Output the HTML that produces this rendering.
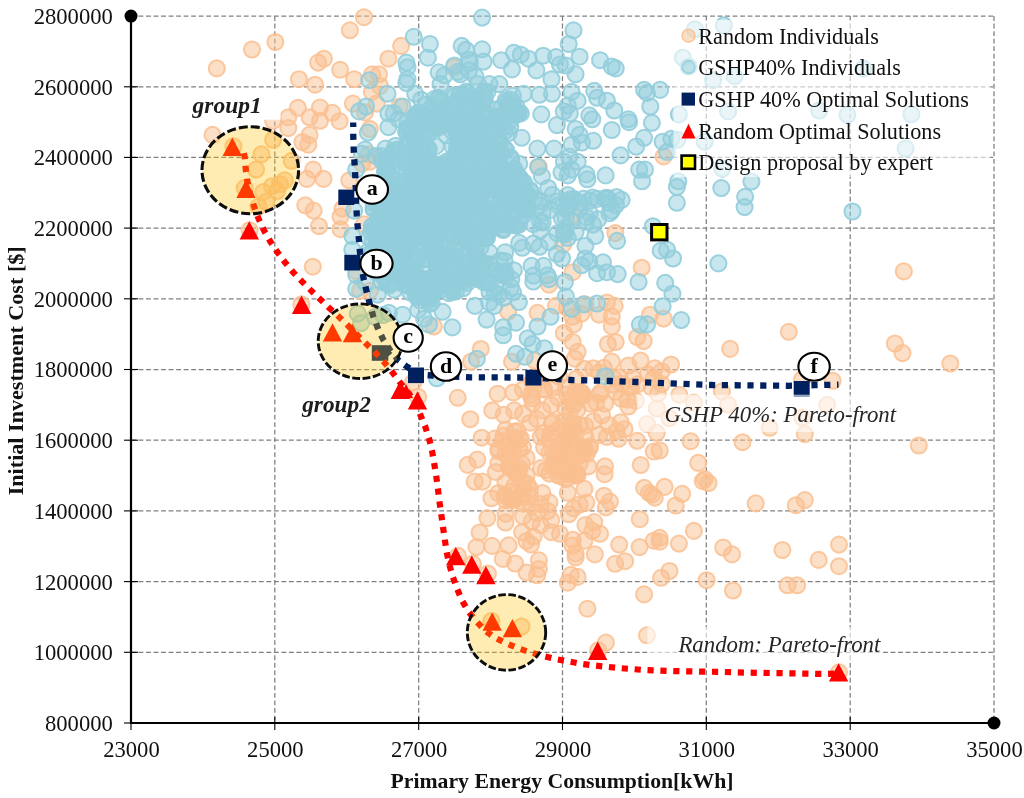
<!DOCTYPE html>
<html lang="en"><head><meta charset="utf-8"><title>Pareto front scatter chart</title>
<style>
html,body{margin:0;padding:0;background:#fff;}
body{width:1024px;height:798px;overflow:hidden;}
svg{display:block;}
text{font-family:"Liberation Serif","Times New Roman",serif;fill:#111;}
.tk{font-size:24px;}
.ttl{font-size:22px;font-weight:bold;}
.lg{font-size:22.7px;fill:#000;}
.it{font-size:22.5px;font-style:italic;fill:#262626;}
.grp{font-size:24.1px;font-style:italic;font-weight:bold;fill:#1c1c1c;}
.lab{font-size:22px;font-weight:bold;fill:#000;}
.o{fill:#fac090;fill-opacity:0.5;stroke:#fac090;stroke-opacity:0.85;stroke-width:2;}
.b{fill:#92cddc;fill-opacity:0.5;stroke:#92cddc;stroke-opacity:0.9;stroke-width:2;}
</style></head><body>
<svg width="1024" height="798" viewBox="0 0 1024 798">
<rect width="1024" height="798" fill="#fff"/>
<g stroke="#808080" stroke-width="1.25" stroke-dasharray="4.85 2.67" fill="none">
<line x1="274.8" y1="16.1" x2="274.8" y2="723.0"/>
<line x1="418.7" y1="16.1" x2="418.7" y2="723.0"/>
<line x1="562.5" y1="16.1" x2="562.5" y2="723.0"/>
<line x1="706.3" y1="16.1" x2="706.3" y2="723.0"/>
<line x1="850.2" y1="16.1" x2="850.2" y2="723.0"/>
<line x1="994.0" y1="16.1" x2="994.0" y2="723.0"/>
<line x1="131.0" y1="652.3" x2="994.0" y2="652.3"/>
<line x1="131.0" y1="581.6" x2="994.0" y2="581.6"/>
<line x1="131.0" y1="510.9" x2="994.0" y2="510.9"/>
<line x1="131.0" y1="440.2" x2="994.0" y2="440.2"/>
<line x1="131.0" y1="369.5" x2="994.0" y2="369.5"/>
<line x1="131.0" y1="298.8" x2="994.0" y2="298.8"/>
<line x1="131.0" y1="228.1" x2="994.0" y2="228.1"/>
<line x1="131.0" y1="157.4" x2="994.0" y2="157.4"/>
<line x1="131.0" y1="86.8" x2="994.0" y2="86.8"/>
<line x1="131.0" y1="16.0" x2="994.0" y2="16.0"/>
</g>
<g class="o">
<circle cx="216.8" cy="68.4" r="8.05"/>
<circle cx="252" cy="49.5" r="8.05"/>
<circle cx="275.4" cy="42" r="8.05"/>
<circle cx="349.9" cy="30.3" r="8.05"/>
<circle cx="364" cy="17.2" r="8.05"/>
<circle cx="318.1" cy="62.6" r="8.05"/>
<circle cx="323.9" cy="58.7" r="8.05"/>
<circle cx="340.1" cy="69.8" r="8.05"/>
<circle cx="298.9" cy="79.2" r="8.05"/>
<circle cx="315.1" cy="84.7" r="8.05"/>
<circle cx="354.2" cy="79.2" r="8.05"/>
<circle cx="372.2" cy="74.3" r="8.05"/>
<circle cx="388.4" cy="58.7" r="8.05"/>
<circle cx="371.8" cy="91.9" r="8.05"/>
<circle cx="352.9" cy="103.6" r="8.05"/>
<circle cx="376.7" cy="103.6" r="8.05"/>
<circle cx="297.9" cy="107.9" r="8.05"/>
<circle cx="320" cy="107.5" r="8.05"/>
<circle cx="332.3" cy="112.8" r="8.05"/>
<circle cx="288.3" cy="117.3" r="8.05"/>
<circle cx="309.6" cy="117.3" r="8.05"/>
<circle cx="320" cy="120.8" r="8.05"/>
<circle cx="339.6" cy="121.2" r="8.05"/>
<circle cx="288.3" cy="128.1" r="8.05"/>
<circle cx="309.6" cy="134.9" r="8.05"/>
<circle cx="302.4" cy="142.1" r="8.05"/>
<circle cx="308.3" cy="144.7" r="8.05"/>
<circle cx="212.5" cy="134.9" r="8.05"/>
<circle cx="233.4" cy="146.2" r="8.05"/>
<circle cx="273.1" cy="139.8" r="8.05"/>
<circle cx="261.4" cy="154.4" r="8.05"/>
<circle cx="369.9" cy="129" r="8.05"/>
<circle cx="365" cy="112.4" r="8.05"/>
<circle cx="401.1" cy="45.9" r="8.05"/>
<circle cx="453.9" cy="67.4" r="8.05"/>
<circle cx="379" cy="74.3" r="8.05"/>
<circle cx="380" cy="86" r="8.05"/>
<circle cx="399.6" cy="106.5" r="8.05"/>
<circle cx="663.6" cy="156.4" r="8.05"/>
<circle cx="903.8" cy="271.4" r="8.05"/>
<circle cx="788.8" cy="331.8" r="8.05"/>
<circle cx="894.9" cy="343.5" r="8.05"/>
<circle cx="902.5" cy="353.1" r="8.05"/>
<circle cx="950.3" cy="363.5" r="8.05"/>
<circle cx="832.7" cy="380.8" r="8.05"/>
<circle cx="802.2" cy="379.5" r="8.05"/>
<circle cx="827.1" cy="404.9" r="8.05"/>
<circle cx="802.2" cy="417.6" r="8.05"/>
<circle cx="769.7" cy="427.8" r="8.05"/>
<circle cx="804.8" cy="434.1" r="8.05"/>
<circle cx="742.5" cy="442.2" r="8.05"/>
<circle cx="918.8" cy="445.5" r="8.05"/>
<circle cx="755.7" cy="503.4" r="8.05"/>
<circle cx="795.9" cy="505.2" r="8.05"/>
<circle cx="804.8" cy="500.1" r="8.05"/>
<circle cx="782.4" cy="550" r="8.05"/>
<circle cx="839" cy="544.6" r="8.05"/>
<circle cx="818.7" cy="559.9" r="8.05"/>
<circle cx="839" cy="566.2" r="8.05"/>
<circle cx="787.5" cy="585.3" r="8.05"/>
<circle cx="797.1" cy="585.3" r="8.05"/>
<circle cx="839" cy="672.4" r="8.05"/>
<circle cx="615.3" cy="233.1" r="8.05"/>
<circle cx="641.7" cy="267.7" r="8.05"/>
<circle cx="572.7" cy="272.2" r="8.05"/>
<circle cx="606.9" cy="302.5" r="8.05"/>
<circle cx="585.4" cy="304.4" r="8.05"/>
<circle cx="573.7" cy="214.5" r="8.05"/>
<circle cx="730.1" cy="348.9" r="8.05"/>
<circle cx="649.9" cy="314.7" r="8.05"/>
<circle cx="663.6" cy="318.6" r="8.05"/>
<circle cx="637.2" cy="337.1" r="8.05"/>
<circle cx="643.7" cy="341.1" r="8.05"/>
<circle cx="611.8" cy="316.6" r="8.05"/>
<circle cx="611.8" cy="326.4" r="8.05"/>
<circle cx="614.7" cy="305.9" r="8.05"/>
<circle cx="607.9" cy="344" r="8.05"/>
<circle cx="615.7" cy="342" r="8.05"/>
<circle cx="611.8" cy="361.6" r="8.05"/>
<circle cx="628.4" cy="365.5" r="8.05"/>
<circle cx="640.5" cy="360.6" r="8.05"/>
<circle cx="671" cy="364.5" r="8.05"/>
<circle cx="654.8" cy="368.4" r="8.05"/>
<circle cx="661.7" cy="371.4" r="8.05"/>
<circle cx="648" cy="374.3" r="8.05"/>
<circle cx="653.8" cy="378.2" r="8.05"/>
<circle cx="619.6" cy="377.2" r="8.05"/>
<circle cx="593.2" cy="368.4" r="8.05"/>
<circle cx="599.1" cy="372.3" r="8.05"/>
<circle cx="574.7" cy="358.7" r="8.05"/>
<circle cx="577.6" cy="351.8" r="8.05"/>
<circle cx="572.7" cy="342" r="8.05"/>
<circle cx="573.7" cy="324.4" r="8.05"/>
<circle cx="563.9" cy="333.2" r="8.05"/>
<circle cx="599.1" cy="314.7" r="8.05"/>
<circle cx="581.5" cy="313.7" r="8.05"/>
<circle cx="566.8" cy="307.8" r="8.05"/>
<circle cx="633.3" cy="378.2" r="8.05"/>
<circle cx="661.7" cy="384.1" r="8.05"/>
<circle cx="651.9" cy="388" r="8.05"/>
<circle cx="657.8" cy="393.8" r="8.05"/>
<circle cx="679.3" cy="394.8" r="8.05"/>
<circle cx="693.9" cy="402.6" r="8.05"/>
<circle cx="656.8" cy="408.5" r="8.05"/>
<circle cx="669.5" cy="418.3" r="8.05"/>
<circle cx="647" cy="424.1" r="8.05"/>
<circle cx="656.8" cy="432.9" r="8.05"/>
<circle cx="721.9" cy="391.5" r="8.05"/>
<circle cx="728.1" cy="404.6" r="8.05"/>
<circle cx="690.6" cy="441.2" r="8.05"/>
<circle cx="637.2" cy="440.8" r="8.05"/>
<circle cx="618.7" cy="438.8" r="8.05"/>
<circle cx="628.4" cy="406.5" r="8.05"/>
<circle cx="627.4" cy="399.7" r="8.05"/>
<circle cx="615.7" cy="391.9" r="8.05"/>
<circle cx="601.1" cy="391.9" r="8.05"/>
<circle cx="605" cy="403.6" r="8.05"/>
<circle cx="590.3" cy="403.6" r="8.05"/>
<circle cx="602" cy="415.3" r="8.05"/>
<circle cx="593.2" cy="421.2" r="8.05"/>
<circle cx="608.9" cy="425.1" r="8.05"/>
<circle cx="620.6" cy="422.2" r="8.05"/>
<circle cx="624.5" cy="429" r="8.05"/>
<circle cx="616.7" cy="431" r="8.05"/>
<circle cx="580.5" cy="391.9" r="8.05"/>
<circle cx="571.7" cy="397.8" r="8.05"/>
<circle cx="565.9" cy="388" r="8.05"/>
<circle cx="577.6" cy="409.5" r="8.05"/>
<circle cx="569.8" cy="413.4" r="8.05"/>
<circle cx="563.9" cy="421.2" r="8.05"/>
<circle cx="579.6" cy="425.1" r="8.05"/>
<circle cx="571.7" cy="432.9" r="8.05"/>
<circle cx="585.4" cy="436.9" r="8.05"/>
<circle cx="565.9" cy="440.8" r="8.05"/>
<circle cx="577.6" cy="444.7" r="8.05"/>
<circle cx="589.3" cy="448.6" r="8.05"/>
<circle cx="599.1" cy="434.9" r="8.05"/>
<circle cx="606.9" cy="436.9" r="8.05"/>
<circle cx="571.7" cy="454.4" r="8.05"/>
<circle cx="659.7" cy="450.5" r="8.05"/>
<circle cx="653.8" cy="451.5" r="8.05"/>
<circle cx="640.7" cy="465" r="8.05"/>
<circle cx="698.2" cy="462.9" r="8.05"/>
<circle cx="605" cy="466.4" r="8.05"/>
<circle cx="604.6" cy="474.2" r="8.05"/>
<circle cx="588.3" cy="466.4" r="8.05"/>
<circle cx="702.7" cy="481.1" r="8.05"/>
<circle cx="708.6" cy="483" r="8.05"/>
<circle cx="704.7" cy="479.1" r="8.05"/>
<circle cx="644.1" cy="487.9" r="8.05"/>
<circle cx="649" cy="492.8" r="8.05"/>
<circle cx="654.8" cy="497.7" r="8.05"/>
<circle cx="651.9" cy="494.7" r="8.05"/>
<circle cx="664.6" cy="486.9" r="8.05"/>
<circle cx="682.2" cy="493.8" r="8.05"/>
<circle cx="675.7" cy="505.5" r="8.05"/>
<circle cx="584.4" cy="488.9" r="8.05"/>
<circle cx="604" cy="495.7" r="8.05"/>
<circle cx="609.9" cy="501.6" r="8.05"/>
<circle cx="605.9" cy="507.4" r="8.05"/>
<circle cx="567.8" cy="492.8" r="8.05"/>
<circle cx="586.4" cy="502.6" r="8.05"/>
<circle cx="573.7" cy="508.4" r="8.05"/>
<circle cx="568.8" cy="514.3" r="8.05"/>
<circle cx="579.6" cy="504.5" r="8.05"/>
<circle cx="639.8" cy="519.2" r="8.05"/>
<circle cx="693.9" cy="530.9" r="8.05"/>
<circle cx="594.2" cy="522.1" r="8.05"/>
<circle cx="585.4" cy="525" r="8.05"/>
<circle cx="592.3" cy="530.9" r="8.05"/>
<circle cx="600.1" cy="533.8" r="8.05"/>
<circle cx="584.4" cy="540.7" r="8.05"/>
<circle cx="572.7" cy="539.7" r="8.05"/>
<circle cx="572.7" cy="545.6" r="8.05"/>
<circle cx="560" cy="533.8" r="8.05"/>
<circle cx="619.2" cy="544.6" r="8.05"/>
<circle cx="639.6" cy="547.1" r="8.05"/>
<circle cx="653.8" cy="540.7" r="8.05"/>
<circle cx="659.7" cy="537.8" r="8.05"/>
<circle cx="659.7" cy="541.7" r="8.05"/>
<circle cx="678.9" cy="543.6" r="8.05"/>
<circle cx="723.2" cy="547.5" r="8.05"/>
<circle cx="732" cy="554.4" r="8.05"/>
<circle cx="594.8" cy="554.4" r="8.05"/>
<circle cx="575.6" cy="553.4" r="8.05"/>
<circle cx="575.6" cy="557.3" r="8.05"/>
<circle cx="615.1" cy="563.8" r="8.05"/>
<circle cx="625.1" cy="561.2" r="8.05"/>
<circle cx="661.1" cy="577.8" r="8.05"/>
<circle cx="669.5" cy="571" r="8.05"/>
<circle cx="706.6" cy="580.2" r="8.05"/>
<circle cx="570.8" cy="574.9" r="8.05"/>
<circle cx="577.6" cy="576.9" r="8.05"/>
<circle cx="567.8" cy="582.7" r="8.05"/>
<circle cx="733" cy="590.5" r="8.05"/>
<circle cx="644.1" cy="594.4" r="8.05"/>
<circle cx="571.7" cy="445.9" r="8.05"/>
<circle cx="563.9" cy="455.6" r="8.05"/>
<circle cx="571.7" cy="459.6" r="8.05"/>
<circle cx="579.6" cy="463.5" r="8.05"/>
<circle cx="563.9" cy="467.4" r="8.05"/>
<circle cx="571.7" cy="471.3" r="8.05"/>
<circle cx="577.6" cy="475.2" r="8.05"/>
<circle cx="565.9" cy="479.1" r="8.05"/>
<circle cx="587.4" cy="608.7" r="8.05"/>
<circle cx="647" cy="635.3" r="8.05"/>
<circle cx="605.9" cy="642.6" r="8.05"/>
<circle cx="598.1" cy="650.4" r="8.05"/>
<circle cx="457.7" cy="397.8" r="8.05"/>
<circle cx="470.3" cy="419.2" r="8.05"/>
<circle cx="497.6" cy="393.7" r="8.05"/>
<circle cx="513.4" cy="392.5" r="8.05"/>
<circle cx="481.7" cy="437.7" r="8.05"/>
<circle cx="494.9" cy="438.6" r="8.05"/>
<circle cx="467.7" cy="464.9" r="8.05"/>
<circle cx="477.3" cy="459.6" r="8.05"/>
<circle cx="474.7" cy="481.6" r="8.05"/>
<circle cx="482.6" cy="481.6" r="8.05"/>
<circle cx="495.8" cy="472" r="8.05"/>
<circle cx="492.3" cy="410.4" r="8.05"/>
<circle cx="503.7" cy="414.8" r="8.05"/>
<circle cx="491.4" cy="498.3" r="8.05"/>
<circle cx="531.8" cy="398.1" r="8.05"/>
<circle cx="514.3" cy="410.4" r="8.05"/>
<circle cx="523" cy="413.9" r="8.05"/>
<circle cx="505.5" cy="429.8" r="8.05"/>
<circle cx="514.3" cy="431.5" r="8.05"/>
<circle cx="498.4" cy="449.1" r="8.05"/>
<circle cx="505.5" cy="454.4" r="8.05"/>
<circle cx="512.5" cy="450.9" r="8.05"/>
<circle cx="523" cy="447.3" r="8.05"/>
<circle cx="526.6" cy="457.9" r="8.05"/>
<circle cx="498.4" cy="463.2" r="8.05"/>
<circle cx="509" cy="466.7" r="8.05"/>
<circle cx="519.5" cy="468.4" r="8.05"/>
<circle cx="526.6" cy="475.5" r="8.05"/>
<circle cx="505.5" cy="482.5" r="8.05"/>
<circle cx="514.3" cy="486" r="8.05"/>
<circle cx="523" cy="489.5" r="8.05"/>
<circle cx="498.4" cy="493" r="8.05"/>
<circle cx="505.5" cy="500.1" r="8.05"/>
<circle cx="514.3" cy="500.1" r="8.05"/>
<circle cx="523" cy="503.6" r="8.05"/>
<circle cx="530.1" cy="496.6" r="8.05"/>
<circle cx="542.4" cy="493" r="8.05"/>
<circle cx="549.4" cy="473.7" r="8.05"/>
<circle cx="545.9" cy="470.2" r="8.05"/>
<circle cx="540.6" cy="436.8" r="8.05"/>
<circle cx="549.4" cy="440.3" r="8.05"/>
<circle cx="558.2" cy="436.8" r="8.05"/>
<circle cx="567" cy="435" r="8.05"/>
<circle cx="544.1" cy="447.3" r="8.05"/>
<circle cx="552.9" cy="452.6" r="8.05"/>
<circle cx="561.7" cy="449.1" r="8.05"/>
<circle cx="554.7" cy="463.2" r="8.05"/>
<circle cx="558.2" cy="475.5" r="8.05"/>
<circle cx="542.4" cy="410.4" r="8.05"/>
<circle cx="551.2" cy="405.2" r="8.05"/>
<circle cx="558.2" cy="398.1" r="8.05"/>
<circle cx="567" cy="394.6" r="8.05"/>
<circle cx="537.1" cy="419.2" r="8.05"/>
<circle cx="530.1" cy="422.7" r="8.05"/>
<circle cx="544.1" cy="389.3" r="8.05"/>
<circle cx="552.9" cy="387.6" r="8.05"/>
<circle cx="533.6" cy="387.6" r="8.05"/>
<circle cx="523" cy="389.3" r="8.05"/>
<circle cx="572.3" cy="405.2" r="8.05"/>
<circle cx="565.2" cy="408.7" r="8.05"/>
<circle cx="487.4" cy="518.1" r="8.05"/>
<circle cx="479.6" cy="532.5" r="8.05"/>
<circle cx="476.5" cy="547.1" r="8.05"/>
<circle cx="491.9" cy="545.9" r="8.05"/>
<circle cx="508.6" cy="545.4" r="8.05"/>
<circle cx="502.8" cy="558.9" r="8.05"/>
<circle cx="515.1" cy="563.5" r="8.05"/>
<circle cx="526.6" cy="572.6" r="8.05"/>
<circle cx="537.1" cy="575.3" r="8.05"/>
<circle cx="538.9" cy="560.3" r="8.05"/>
<circle cx="538.9" cy="569.1" r="8.05"/>
<circle cx="505.5" cy="513.7" r="8.05"/>
<circle cx="505.5" cy="522.5" r="8.05"/>
<circle cx="522.2" cy="532.2" r="8.05"/>
<circle cx="526.6" cy="541" r="8.05"/>
<circle cx="531" cy="544.5" r="8.05"/>
<circle cx="533.6" cy="536.6" r="8.05"/>
<circle cx="523" cy="516.4" r="8.05"/>
<circle cx="531.8" cy="521.6" r="8.05"/>
<circle cx="540.6" cy="525.2" r="8.05"/>
<circle cx="551.2" cy="519.9" r="8.05"/>
<circle cx="551.2" cy="532.2" r="8.05"/>
<circle cx="531.8" cy="505.8" r="8.05"/>
<circle cx="540.6" cy="504.1" r="8.05"/>
<circle cx="549.4" cy="502.3" r="8.05"/>
<circle cx="537.1" cy="512.9" r="8.05"/>
<circle cx="547.7" cy="511.1" r="8.05"/>
<circle cx="458" cy="555.9" r="8.05"/>
<circle cx="472.9" cy="563.8" r="8.05"/>
<circle cx="487.9" cy="573.5" r="8.05"/>
<circle cx="491.4" cy="621" r="8.05"/>
<circle cx="256.1" cy="169.6" r="8.05"/>
<circle cx="291.7" cy="160.8" r="8.05"/>
<circle cx="284.8" cy="180.3" r="8.05"/>
<circle cx="279.9" cy="184.2" r="8.05"/>
<circle cx="272.1" cy="186.2" r="8.05"/>
<circle cx="277" cy="191.1" r="8.05"/>
<circle cx="263.3" cy="192" r="8.05"/>
<circle cx="266.2" cy="201.8" r="8.05"/>
<circle cx="258.4" cy="206.7" r="8.05"/>
<circle cx="244.7" cy="188.1" r="8.05"/>
<circle cx="313.2" cy="169.6" r="8.05"/>
<circle cx="306.9" cy="178.9" r="8.05"/>
<circle cx="323.5" cy="178.9" r="8.05"/>
<circle cx="305.3" cy="205.3" r="8.05"/>
<circle cx="313.6" cy="210.6" r="8.05"/>
<circle cx="319" cy="226.2" r="8.05"/>
<circle cx="340.5" cy="229.2" r="8.05"/>
<circle cx="342.5" cy="208.7" r="8.05"/>
<circle cx="340.5" cy="216.5" r="8.05"/>
<circle cx="349.3" cy="180.3" r="8.05"/>
<circle cx="312.8" cy="266.7" r="8.05"/>
<circle cx="249.6" cy="230.2" r="8.05"/>
<circle cx="301.4" cy="304.4" r="8.05"/>
<circle cx="362" cy="163.7" r="8.05"/>
<circle cx="369.9" cy="161.7" r="8.05"/>
<circle cx="360.1" cy="290.8" r="8.05"/>
<circle cx="369.9" cy="290.8" r="8.05"/>
<circle cx="364" cy="224.3" r="8.05"/>
<circle cx="356.2" cy="271.2" r="8.05"/>
<circle cx="538.8" cy="166.8" r="8.05"/>
<circle cx="563.1" cy="244.4" r="8.05"/>
<circle cx="480.8" cy="349" r="8.05"/>
<circle cx="471" cy="361.7" r="8.05"/>
<circle cx="508.1" cy="311.8" r="8.05"/>
<circle cx="512" cy="361.7" r="8.05"/>
<circle cx="537.5" cy="312.8" r="8.05"/>
<circle cx="413.3" cy="382.2" r="8.05"/>
<circle cx="418.2" cy="396.9" r="8.05"/>
<circle cx="433.8" cy="326.5" r="8.05"/>
<circle cx="421.1" cy="291.3" r="8.05"/>
<circle cx="549" cy="284.7" r="8.05"/>
<circle cx="556" cy="305.8" r="8.05"/>
<circle cx="572.5" cy="316.8" r="8.05"/>
<circle cx="534.9" cy="360.7" r="8.05"/>
<circle cx="368.8" cy="154.4" r="8.05"/>
<circle cx="273.1" cy="120.8" r="8.05"/>
<circle cx="521.5" cy="626.6" r="8.05"/>
<circle cx="575.4" cy="391.7" r="8.05"/>
<circle cx="631.1" cy="387.4" r="8.05"/>
<circle cx="581.9" cy="393" r="8.05"/>
<circle cx="543.8" cy="389.5" r="8.05"/>
<circle cx="596.3" cy="402.5" r="8.05"/>
<circle cx="533.1" cy="380" r="8.05"/>
<circle cx="532.7" cy="403.2" r="8.05"/>
<circle cx="603.8" cy="367.9" r="8.05"/>
<circle cx="599.2" cy="394.3" r="8.05"/>
<circle cx="584.3" cy="368.7" r="8.05"/>
<circle cx="544.4" cy="377.1" r="8.05"/>
<circle cx="574" cy="404.8" r="8.05"/>
<circle cx="583.3" cy="395.5" r="8.05"/>
<circle cx="581" cy="396.5" r="8.05"/>
<circle cx="576" cy="378.8" r="8.05"/>
<circle cx="621.1" cy="398.6" r="8.05"/>
<circle cx="559.2" cy="376.6" r="8.05"/>
<circle cx="612.4" cy="384.4" r="8.05"/>
<circle cx="621.9" cy="383.8" r="8.05"/>
<circle cx="629.4" cy="387.6" r="8.05"/>
<circle cx="637.7" cy="384.3" r="8.05"/>
<circle cx="530.6" cy="395" r="8.05"/>
<circle cx="613.9" cy="378.4" r="8.05"/>
<circle cx="532.3" cy="381.3" r="8.05"/>
<circle cx="635.8" cy="400.9" r="8.05"/>
<circle cx="535.9" cy="377.3" r="8.05"/>
<circle cx="527.3" cy="483.9" r="8.05"/>
<circle cx="519.5" cy="449.7" r="8.05"/>
<circle cx="516.5" cy="473.5" r="8.05"/>
<circle cx="515.3" cy="437.7" r="8.05"/>
<circle cx="508.2" cy="456.5" r="8.05"/>
<circle cx="508.9" cy="446.5" r="8.05"/>
<circle cx="509.9" cy="450.5" r="8.05"/>
<circle cx="505.9" cy="496.3" r="8.05"/>
<circle cx="512.7" cy="469.8" r="8.05"/>
<circle cx="503.3" cy="435.9" r="8.05"/>
<circle cx="519.7" cy="439.5" r="8.05"/>
<circle cx="530" cy="488.7" r="8.05"/>
<circle cx="522.5" cy="497.5" r="8.05"/>
<circle cx="523.9" cy="488.2" r="8.05"/>
<circle cx="523.4" cy="482.2" r="8.05"/>
<circle cx="509.7" cy="467.4" r="8.05"/>
<circle cx="511" cy="499" r="8.05"/>
<circle cx="511.5" cy="491.5" r="8.05"/>
<circle cx="504.6" cy="495.6" r="8.05"/>
<circle cx="514.7" cy="498.6" r="8.05"/>
<circle cx="522" cy="463.9" r="8.05"/>
<circle cx="498.4" cy="451" r="8.05"/>
<circle cx="520.9" cy="438.3" r="8.05"/>
<circle cx="511.7" cy="466.4" r="8.05"/>
<circle cx="518.6" cy="472" r="8.05"/>
<circle cx="502.7" cy="441.6" r="8.05"/>
<circle cx="512.1" cy="499.7" r="8.05"/>
<circle cx="517.3" cy="431" r="8.05"/>
<circle cx="549.3" cy="452.7" r="8.05"/>
<circle cx="556.7" cy="456.2" r="8.05"/>
<circle cx="571" cy="423.9" r="8.05"/>
<circle cx="550.5" cy="434.1" r="8.05"/>
<circle cx="582.8" cy="448.6" r="8.05"/>
<circle cx="571.8" cy="429" r="8.05"/>
<circle cx="571.6" cy="472.1" r="8.05"/>
<circle cx="565.3" cy="464.5" r="8.05"/>
<circle cx="573.6" cy="423.8" r="8.05"/>
<circle cx="578.5" cy="455.5" r="8.05"/>
<circle cx="552.9" cy="421.9" r="8.05"/>
<circle cx="584.5" cy="448.4" r="8.05"/>
<circle cx="576.3" cy="472.7" r="8.05"/>
<circle cx="576" cy="475.3" r="8.05"/>
<circle cx="558.1" cy="468.1" r="8.05"/>
<circle cx="560.9" cy="476.1" r="8.05"/>
<circle cx="585.2" cy="425.8" r="8.05"/>
<circle cx="543.6" cy="433" r="8.05"/>
<circle cx="590.1" cy="446.2" r="8.05"/>
<circle cx="571.1" cy="438.1" r="8.05"/>
<circle cx="564.4" cy="443.2" r="8.05"/>
<circle cx="555.7" cy="455.1" r="8.05"/>
<circle cx="568.7" cy="474.3" r="8.05"/>
<circle cx="574.2" cy="475.7" r="8.05"/>
<circle cx="573.6" cy="429.8" r="8.05"/>
<circle cx="586.7" cy="454.1" r="8.05"/>
<circle cx="576" cy="432.7" r="8.05"/>
<circle cx="582.6" cy="454.4" r="8.05"/>
<circle cx="552" cy="423.8" r="8.05"/>
<circle cx="541" cy="468" r="8.05"/>
<circle cx="559" cy="429" r="8.05"/>
<circle cx="552.5" cy="466.1" r="8.05"/>
</g>
<g class="b">
<circle cx="369.3" cy="80.2" r="8.05"/>
<circle cx="366" cy="106.5" r="8.05"/>
<circle cx="359.1" cy="111.4" r="8.05"/>
<circle cx="367.9" cy="132.6" r="8.05"/>
<circle cx="365" cy="149.6" r="8.05"/>
<circle cx="387.5" cy="93.8" r="8.05"/>
<circle cx="388.4" cy="113.4" r="8.05"/>
<circle cx="388.4" cy="127.1" r="8.05"/>
<circle cx="385.5" cy="148.6" r="8.05"/>
<circle cx="482.1" cy="17.6" r="8.05"/>
<circle cx="413.8" cy="36.8" r="8.05"/>
<circle cx="429.9" cy="44" r="8.05"/>
<circle cx="427.9" cy="57.7" r="8.05"/>
<circle cx="406.4" cy="62.6" r="8.05"/>
<circle cx="407.4" cy="67.4" r="8.05"/>
<circle cx="407.4" cy="79.2" r="8.05"/>
<circle cx="406.4" cy="83.1" r="8.05"/>
<circle cx="461.7" cy="45.9" r="8.05"/>
<circle cx="466" cy="49.9" r="8.05"/>
<circle cx="482.1" cy="49.3" r="8.05"/>
<circle cx="483.6" cy="61.6" r="8.05"/>
<circle cx="469.9" cy="62.6" r="8.05"/>
<circle cx="454.3" cy="65.5" r="8.05"/>
<circle cx="438.7" cy="72.3" r="8.05"/>
<circle cx="444.5" cy="75.3" r="8.05"/>
<circle cx="440.6" cy="84.1" r="8.05"/>
<circle cx="460.2" cy="74.3" r="8.05"/>
<circle cx="469" cy="70.4" r="8.05"/>
<circle cx="501.2" cy="60.2" r="8.05"/>
<circle cx="513.9" cy="52.8" r="8.05"/>
<circle cx="520.8" cy="54.7" r="8.05"/>
<circle cx="528.6" cy="58.7" r="8.05"/>
<circle cx="512" cy="69.4" r="8.05"/>
<circle cx="536.4" cy="70.4" r="8.05"/>
<circle cx="543.2" cy="55.7" r="8.05"/>
<circle cx="556" cy="57.1" r="8.05"/>
<circle cx="559.9" cy="64.5" r="8.05"/>
<circle cx="551.5" cy="79.2" r="8.05"/>
<circle cx="568.7" cy="44" r="8.05"/>
<circle cx="573.5" cy="30.3" r="8.05"/>
<circle cx="575.5" cy="74.3" r="8.05"/>
<circle cx="499.3" cy="84.1" r="8.05"/>
<circle cx="489.5" cy="84.1" r="8.05"/>
<circle cx="477.8" cy="84.1" r="8.05"/>
<circle cx="523.7" cy="93.8" r="8.05"/>
<circle cx="512.9" cy="95.8" r="8.05"/>
<circle cx="539.3" cy="94.8" r="8.05"/>
<circle cx="552" cy="93.8" r="8.05"/>
<circle cx="571.6" cy="91.9" r="8.05"/>
<circle cx="541.3" cy="114.4" r="8.05"/>
<circle cx="556.9" cy="125.1" r="8.05"/>
<circle cx="563.8" cy="111.4" r="8.05"/>
<circle cx="567.7" cy="105.6" r="8.05"/>
<circle cx="521.7" cy="137.8" r="8.05"/>
<circle cx="537.4" cy="148.6" r="8.05"/>
<circle cx="554" cy="148.6" r="8.05"/>
<circle cx="505.1" cy="131" r="8.05"/>
<circle cx="520.8" cy="113.4" r="8.05"/>
<circle cx="514.9" cy="115.3" r="8.05"/>
<circle cx="415.2" cy="93.8" r="8.05"/>
<circle cx="421.1" cy="99.7" r="8.05"/>
<circle cx="402.5" cy="106.5" r="8.05"/>
<circle cx="393.7" cy="113.4" r="8.05"/>
<circle cx="398.6" cy="119.3" r="8.05"/>
<circle cx="409.3" cy="129" r="8.05"/>
<circle cx="395.6" cy="145.7" r="8.05"/>
<circle cx="579.6" cy="56.7" r="8.05"/>
<circle cx="565.9" cy="65.5" r="8.05"/>
<circle cx="600.1" cy="60.2" r="8.05"/>
<circle cx="611.8" cy="66.5" r="8.05"/>
<circle cx="615.7" cy="68.4" r="8.05"/>
<circle cx="644.1" cy="89.9" r="8.05"/>
<circle cx="647" cy="92.9" r="8.05"/>
<circle cx="660.1" cy="89.9" r="8.05"/>
<circle cx="650.3" cy="106.5" r="8.05"/>
<circle cx="651.9" cy="122.8" r="8.05"/>
<circle cx="628.4" cy="119.3" r="8.05"/>
<circle cx="629" cy="122.2" r="8.05"/>
<circle cx="614.3" cy="110.5" r="8.05"/>
<circle cx="611.8" cy="130" r="8.05"/>
<circle cx="594.2" cy="90.9" r="8.05"/>
<circle cx="597.1" cy="97.8" r="8.05"/>
<circle cx="606.9" cy="100.7" r="8.05"/>
<circle cx="577.6" cy="100.7" r="8.05"/>
<circle cx="589.3" cy="115.3" r="8.05"/>
<circle cx="592.3" cy="119.3" r="8.05"/>
<circle cx="569.8" cy="113.4" r="8.05"/>
<circle cx="575.6" cy="129" r="8.05"/>
<circle cx="579.6" cy="134.9" r="8.05"/>
<circle cx="593.2" cy="140.8" r="8.05"/>
<circle cx="571.7" cy="144.7" r="8.05"/>
<circle cx="644.1" cy="137.8" r="8.05"/>
<circle cx="636.2" cy="146.6" r="8.05"/>
<circle cx="662.6" cy="141.7" r="8.05"/>
<circle cx="671.4" cy="138.8" r="8.05"/>
<circle cx="620.6" cy="155.4" r="8.05"/>
<circle cx="694.9" cy="29.3" r="8.05"/>
<circle cx="723.8" cy="25.4" r="8.05"/>
<circle cx="682.8" cy="57.7" r="8.05"/>
<circle cx="688.6" cy="66.5" r="8.05"/>
<circle cx="713.1" cy="80.2" r="8.05"/>
<circle cx="734.6" cy="76.2" r="8.05"/>
<circle cx="678.9" cy="114.4" r="8.05"/>
<circle cx="728.1" cy="111.4" r="8.05"/>
<circle cx="677.3" cy="139.8" r="8.05"/>
<circle cx="704.7" cy="141.7" r="8.05"/>
<circle cx="863.2" cy="68.6" r="8.05"/>
<circle cx="819.2" cy="110.5" r="8.05"/>
<circle cx="847.4" cy="114.8" r="8.05"/>
<circle cx="911.4" cy="114.3" r="8.05"/>
<circle cx="905.6" cy="148.6" r="8.05"/>
<circle cx="751.4" cy="181.6" r="8.05"/>
<circle cx="745.1" cy="196.8" r="8.05"/>
<circle cx="744.6" cy="207.1" r="8.05"/>
<circle cx="852.5" cy="211.5" r="8.05"/>
<circle cx="605.6" cy="175.4" r="8.05"/>
<circle cx="586.4" cy="174.4" r="8.05"/>
<circle cx="587.4" cy="179.3" r="8.05"/>
<circle cx="639.2" cy="169.6" r="8.05"/>
<circle cx="645" cy="169.6" r="8.05"/>
<circle cx="642.1" cy="181.3" r="8.05"/>
<circle cx="667.1" cy="152" r="8.05"/>
<circle cx="678.3" cy="181.3" r="8.05"/>
<circle cx="676.9" cy="187.1" r="8.05"/>
<circle cx="676.9" cy="202.8" r="8.05"/>
<circle cx="721.3" cy="188.1" r="8.05"/>
<circle cx="722.3" cy="168.6" r="8.05"/>
<circle cx="718.4" cy="263.4" r="8.05"/>
<circle cx="652.9" cy="226.2" r="8.05"/>
<circle cx="660.7" cy="250.7" r="8.05"/>
<circle cx="667.1" cy="249.7" r="8.05"/>
<circle cx="673" cy="258.5" r="8.05"/>
<circle cx="638.6" cy="282" r="8.05"/>
<circle cx="665.2" cy="282.9" r="8.05"/>
<circle cx="672.4" cy="293.7" r="8.05"/>
<circle cx="662.6" cy="306.4" r="8.05"/>
<circle cx="617.1" cy="240.9" r="8.05"/>
<circle cx="595.2" cy="236" r="8.05"/>
<circle cx="585.4" cy="245.8" r="8.05"/>
<circle cx="598.1" cy="219.4" r="8.05"/>
<circle cx="611.8" cy="210.6" r="8.05"/>
<circle cx="608.9" cy="202.8" r="8.05"/>
<circle cx="621.6" cy="199.9" r="8.05"/>
<circle cx="605.9" cy="197.9" r="8.05"/>
<circle cx="597.1" cy="198.9" r="8.05"/>
<circle cx="583.5" cy="198.9" r="8.05"/>
<circle cx="573.7" cy="198.9" r="8.05"/>
<circle cx="589.3" cy="261.4" r="8.05"/>
<circle cx="603" cy="262.4" r="8.05"/>
<circle cx="597.1" cy="273.2" r="8.05"/>
<circle cx="606.9" cy="272.2" r="8.05"/>
<circle cx="617.7" cy="274.1" r="8.05"/>
<circle cx="585.4" cy="258.5" r="8.05"/>
<circle cx="581.5" cy="265.3" r="8.05"/>
<circle cx="564.9" cy="282" r="8.05"/>
<circle cx="562" cy="258.5" r="8.05"/>
<circle cx="565.9" cy="296.6" r="8.05"/>
<circle cx="597.1" cy="303.5" r="8.05"/>
<circle cx="583.5" cy="304.4" r="8.05"/>
<circle cx="567.8" cy="195" r="8.05"/>
<circle cx="565.9" cy="208.7" r="8.05"/>
<circle cx="571.7" cy="220.4" r="8.05"/>
<circle cx="565.9" cy="228.2" r="8.05"/>
<circle cx="575.6" cy="232.1" r="8.05"/>
<circle cx="567.8" cy="238" r="8.05"/>
<circle cx="562" cy="218.4" r="8.05"/>
<circle cx="579.6" cy="208.7" r="8.05"/>
<circle cx="571.7" cy="169.6" r="8.05"/>
<circle cx="563.9" cy="161.7" r="8.05"/>
<circle cx="577.6" cy="161.7" r="8.05"/>
<circle cx="567.8" cy="175.4" r="8.05"/>
<circle cx="647" cy="324.4" r="8.05"/>
<circle cx="681.2" cy="320.1" r="8.05"/>
<circle cx="571.7" cy="308.8" r="8.05"/>
<circle cx="605.4" cy="376.2" r="8.05"/>
<circle cx="356.2" cy="169.6" r="8.05"/>
<circle cx="362" cy="153.9" r="8.05"/>
<circle cx="375.7" cy="155.9" r="8.05"/>
<circle cx="354.2" cy="210.6" r="8.05"/>
<circle cx="352.3" cy="236" r="8.05"/>
<circle cx="352.3" cy="249.7" r="8.05"/>
<circle cx="356.2" cy="275.1" r="8.05"/>
<circle cx="356.2" cy="288.8" r="8.05"/>
<circle cx="377.7" cy="294.7" r="8.05"/>
<circle cx="538" cy="166.8" r="8.05"/>
<circle cx="541.9" cy="176.2" r="8.05"/>
<circle cx="548.2" cy="188" r="8.05"/>
<circle cx="561.5" cy="172.3" r="8.05"/>
<circle cx="581.9" cy="142.5" r="8.05"/>
<circle cx="569.3" cy="156.6" r="8.05"/>
<circle cx="519.2" cy="163.7" r="8.05"/>
<circle cx="511.3" cy="159.8" r="8.05"/>
<circle cx="517.6" cy="175.5" r="8.05"/>
<circle cx="589.7" cy="200.5" r="8.05"/>
<circle cx="567.8" cy="200.5" r="8.05"/>
<circle cx="558.4" cy="205.2" r="8.05"/>
<circle cx="550.5" cy="209.9" r="8.05"/>
<circle cx="589.7" cy="213.1" r="8.05"/>
<circle cx="549" cy="242.1" r="8.05"/>
<circle cx="533.3" cy="243.6" r="8.05"/>
<circle cx="539.6" cy="246.8" r="8.05"/>
<circle cx="519.2" cy="242.9" r="8.05"/>
<circle cx="505.1" cy="252.3" r="8.05"/>
<circle cx="489.4" cy="252.3" r="8.05"/>
<circle cx="556.8" cy="253.8" r="8.05"/>
<circle cx="542.7" cy="222.5" r="8.05"/>
<circle cx="533.3" cy="224" r="8.05"/>
<circle cx="539.6" cy="205.2" r="8.05"/>
<circle cx="534.9" cy="199" r="8.05"/>
<circle cx="365.4" cy="282.5" r="8.05"/>
<circle cx="402.6" cy="314.7" r="8.05"/>
<circle cx="388.9" cy="312.8" r="8.05"/>
<circle cx="452.4" cy="327.4" r="8.05"/>
<circle cx="429" cy="324.5" r="8.05"/>
<circle cx="424.1" cy="318.7" r="8.05"/>
<circle cx="442.6" cy="311.8" r="8.05"/>
<circle cx="418.2" cy="309.9" r="8.05"/>
<circle cx="474.9" cy="305.9" r="8.05"/>
<circle cx="486.6" cy="319.6" r="8.05"/>
<circle cx="494.4" cy="305.9" r="8.05"/>
<circle cx="503.2" cy="327.4" r="8.05"/>
<circle cx="503.2" cy="335.3" r="8.05"/>
<circle cx="516" cy="322.6" r="8.05"/>
<circle cx="518.9" cy="302" r="8.05"/>
<circle cx="513" cy="292.3" r="8.05"/>
<circle cx="527.7" cy="338.2" r="8.05"/>
<circle cx="532.6" cy="344.1" r="8.05"/>
<circle cx="516" cy="353.8" r="8.05"/>
<circle cx="524.8" cy="356.8" r="8.05"/>
<circle cx="537.5" cy="326.5" r="8.05"/>
<circle cx="476.9" cy="358.7" r="8.05"/>
<circle cx="436.8" cy="378.3" r="8.05"/>
<circle cx="531.6" cy="265.9" r="8.05"/>
<circle cx="533.5" cy="275.6" r="8.05"/>
<circle cx="543.5" cy="265.9" r="8.05"/>
<circle cx="533.3" cy="281.5" r="8.05"/>
<circle cx="547.4" cy="275.3" r="8.05"/>
<circle cx="549" cy="279.2" r="8.05"/>
<circle cx="550.5" cy="316.8" r="8.05"/>
<circle cx="544.3" cy="348.2" r="8.05"/>
<circle cx="489.4" cy="302.7" r="8.05"/>
<circle cx="505.1" cy="271.3" r="8.05"/>
<circle cx="511.3" cy="279.2" r="8.05"/>
<circle cx="495.7" cy="287" r="8.05"/>
<circle cx="487.8" cy="279.2" r="8.05"/>
<circle cx="484.7" cy="263.5" r="8.05"/>
<circle cx="522.3" cy="247.8" r="8.05"/>
<circle cx="639.9" cy="324.6" r="8.05"/>
<circle cx="381.3" cy="156" r="8.05"/>
<circle cx="357.8" cy="313.7" r="8.05"/>
<circle cx="361" cy="323" r="8.05"/>
<circle cx="375" cy="316.8" r="8.05"/>
<circle cx="383" cy="315" r="8.05"/>
<circle cx="382.1" cy="282" r="8.05"/>
<circle cx="499.8" cy="142.2" r="8.05"/>
<circle cx="449.6" cy="188.1" r="8.05"/>
<circle cx="513.3" cy="184.1" r="8.05"/>
<circle cx="440.3" cy="252.3" r="8.05"/>
<circle cx="397.5" cy="181.6" r="8.05"/>
<circle cx="438.9" cy="199" r="8.05"/>
<circle cx="397.9" cy="190.5" r="8.05"/>
<circle cx="513.6" cy="213.3" r="8.05"/>
<circle cx="477.1" cy="125.9" r="8.05"/>
<circle cx="413.7" cy="220.7" r="8.05"/>
<circle cx="451.5" cy="221" r="8.05"/>
<circle cx="506.1" cy="179.8" r="8.05"/>
<circle cx="389.4" cy="211.5" r="8.05"/>
<circle cx="427.1" cy="185.6" r="8.05"/>
<circle cx="452.1" cy="265.7" r="8.05"/>
<circle cx="454.4" cy="174.8" r="8.05"/>
<circle cx="430.6" cy="122.2" r="8.05"/>
<circle cx="501.1" cy="209.3" r="8.05"/>
<circle cx="465" cy="190.4" r="8.05"/>
<circle cx="407.4" cy="211.3" r="8.05"/>
<circle cx="508.3" cy="204.4" r="8.05"/>
<circle cx="462" cy="182.6" r="8.05"/>
<circle cx="463.6" cy="129.2" r="8.05"/>
<circle cx="451.4" cy="196.4" r="8.05"/>
<circle cx="423.7" cy="163.7" r="8.05"/>
<circle cx="457.7" cy="229.1" r="8.05"/>
<circle cx="471.5" cy="190.1" r="8.05"/>
<circle cx="390.1" cy="219.9" r="8.05"/>
<circle cx="404.7" cy="280.7" r="8.05"/>
<circle cx="482.9" cy="101.6" r="8.05"/>
<circle cx="498.3" cy="140.9" r="8.05"/>
<circle cx="377.5" cy="229.5" r="8.05"/>
<circle cx="386.8" cy="206.5" r="8.05"/>
<circle cx="490.1" cy="189.3" r="8.05"/>
<circle cx="417.2" cy="193.8" r="8.05"/>
<circle cx="435.7" cy="126.4" r="8.05"/>
<circle cx="452.4" cy="131.3" r="8.05"/>
<circle cx="470.3" cy="274.8" r="8.05"/>
<circle cx="384.4" cy="251.6" r="8.05"/>
<circle cx="387" cy="248.3" r="8.05"/>
<circle cx="483.8" cy="210.5" r="8.05"/>
<circle cx="506.2" cy="203.9" r="8.05"/>
<circle cx="398.7" cy="235" r="8.05"/>
<circle cx="430.8" cy="217.9" r="8.05"/>
<circle cx="417.1" cy="230.9" r="8.05"/>
<circle cx="414.3" cy="284.6" r="8.05"/>
<circle cx="496.1" cy="180.2" r="8.05"/>
<circle cx="463.6" cy="122.5" r="8.05"/>
<circle cx="488.7" cy="202.1" r="8.05"/>
<circle cx="427.7" cy="163.9" r="8.05"/>
<circle cx="395.5" cy="241.1" r="8.05"/>
<circle cx="438" cy="127.8" r="8.05"/>
<circle cx="376.5" cy="239.2" r="8.05"/>
<circle cx="412.4" cy="200" r="8.05"/>
<circle cx="417.8" cy="287.7" r="8.05"/>
<circle cx="394.6" cy="159.3" r="8.05"/>
<circle cx="420.4" cy="132.3" r="8.05"/>
<circle cx="400.9" cy="253.2" r="8.05"/>
<circle cx="499" cy="223.6" r="8.05"/>
<circle cx="514.3" cy="168.9" r="8.05"/>
<circle cx="420.6" cy="150.7" r="8.05"/>
<circle cx="519.2" cy="224.5" r="8.05"/>
<circle cx="382.3" cy="212.1" r="8.05"/>
<circle cx="420.7" cy="227.2" r="8.05"/>
<circle cx="503.2" cy="171.2" r="8.05"/>
<circle cx="463.7" cy="134.8" r="8.05"/>
<circle cx="523.6" cy="215.2" r="8.05"/>
<circle cx="530" cy="190" r="8.05"/>
<circle cx="408.8" cy="267.7" r="8.05"/>
<circle cx="482.4" cy="103.6" r="8.05"/>
<circle cx="402.1" cy="257.6" r="8.05"/>
<circle cx="404.4" cy="194.6" r="8.05"/>
<circle cx="375.7" cy="235.9" r="8.05"/>
<circle cx="468.6" cy="188.2" r="8.05"/>
<circle cx="397.2" cy="227.8" r="8.05"/>
<circle cx="485.7" cy="238.2" r="8.05"/>
<circle cx="405.4" cy="209.8" r="8.05"/>
<circle cx="414.5" cy="140.1" r="8.05"/>
<circle cx="478.9" cy="233.9" r="8.05"/>
<circle cx="414.4" cy="159.2" r="8.05"/>
<circle cx="416.2" cy="281.9" r="8.05"/>
<circle cx="419.5" cy="210.4" r="8.05"/>
<circle cx="465.3" cy="222.6" r="8.05"/>
<circle cx="460.1" cy="98.7" r="8.05"/>
<circle cx="371" cy="232" r="8.05"/>
<circle cx="411.4" cy="269" r="8.05"/>
<circle cx="449.2" cy="285.6" r="8.05"/>
<circle cx="385.8" cy="200.3" r="8.05"/>
<circle cx="505.7" cy="100.2" r="8.05"/>
<circle cx="510.6" cy="157.5" r="8.05"/>
<circle cx="377" cy="203.4" r="8.05"/>
<circle cx="416.1" cy="295.1" r="8.05"/>
<circle cx="486" cy="124" r="8.05"/>
<circle cx="437.9" cy="119.3" r="8.05"/>
<circle cx="459.7" cy="209.8" r="8.05"/>
<circle cx="516.2" cy="189" r="8.05"/>
<circle cx="431" cy="161.9" r="8.05"/>
<circle cx="477.9" cy="180.3" r="8.05"/>
<circle cx="463.7" cy="96.7" r="8.05"/>
<circle cx="423.4" cy="114.6" r="8.05"/>
<circle cx="512" cy="175.9" r="8.05"/>
<circle cx="432" cy="226.5" r="8.05"/>
<circle cx="455.9" cy="200.2" r="8.05"/>
<circle cx="478.3" cy="185.4" r="8.05"/>
<circle cx="401.6" cy="198.8" r="8.05"/>
<circle cx="446.5" cy="135.1" r="8.05"/>
<circle cx="434.1" cy="214.3" r="8.05"/>
<circle cx="408.5" cy="234.6" r="8.05"/>
<circle cx="452.7" cy="289.1" r="8.05"/>
<circle cx="386.8" cy="262.8" r="8.05"/>
<circle cx="426.5" cy="247.5" r="8.05"/>
<circle cx="494.7" cy="222.3" r="8.05"/>
<circle cx="397.7" cy="216.4" r="8.05"/>
<circle cx="422.1" cy="203.6" r="8.05"/>
<circle cx="387.8" cy="254.3" r="8.05"/>
<circle cx="480.4" cy="247.3" r="8.05"/>
<circle cx="507.1" cy="184.2" r="8.05"/>
<circle cx="387.8" cy="158.8" r="8.05"/>
<circle cx="469.3" cy="178.3" r="8.05"/>
<circle cx="403.4" cy="258.9" r="8.05"/>
<circle cx="474.3" cy="224.9" r="8.05"/>
<circle cx="410.3" cy="210" r="8.05"/>
<circle cx="408.1" cy="220.2" r="8.05"/>
<circle cx="403.9" cy="243.3" r="8.05"/>
<circle cx="448.8" cy="283.9" r="8.05"/>
<circle cx="500.8" cy="216.6" r="8.05"/>
<circle cx="428.7" cy="149" r="8.05"/>
<circle cx="377.2" cy="272.6" r="8.05"/>
<circle cx="379.1" cy="258.4" r="8.05"/>
<circle cx="382.5" cy="200.1" r="8.05"/>
<circle cx="464.1" cy="155.5" r="8.05"/>
<circle cx="451.1" cy="166.2" r="8.05"/>
<circle cx="439.7" cy="188.1" r="8.05"/>
<circle cx="414" cy="176.3" r="8.05"/>
<circle cx="449.1" cy="234.8" r="8.05"/>
<circle cx="427.6" cy="130.1" r="8.05"/>
<circle cx="512.1" cy="202.6" r="8.05"/>
<circle cx="513.1" cy="178.5" r="8.05"/>
<circle cx="414.1" cy="122.2" r="8.05"/>
<circle cx="472.9" cy="207.3" r="8.05"/>
<circle cx="429.8" cy="182.5" r="8.05"/>
<circle cx="432.8" cy="285.3" r="8.05"/>
<circle cx="466.3" cy="255.2" r="8.05"/>
<circle cx="449.1" cy="258" r="8.05"/>
<circle cx="476.7" cy="235.1" r="8.05"/>
<circle cx="474.7" cy="178.1" r="8.05"/>
<circle cx="474.7" cy="231.6" r="8.05"/>
<circle cx="509.5" cy="224.9" r="8.05"/>
<circle cx="422.3" cy="144.4" r="8.05"/>
<circle cx="458.8" cy="117.9" r="8.05"/>
<circle cx="512.8" cy="196.4" r="8.05"/>
<circle cx="452.4" cy="257.8" r="8.05"/>
<circle cx="436" cy="165.8" r="8.05"/>
<circle cx="486.1" cy="176.9" r="8.05"/>
<circle cx="485.8" cy="224.8" r="8.05"/>
<circle cx="454.8" cy="168.9" r="8.05"/>
<circle cx="452.7" cy="255.9" r="8.05"/>
<circle cx="388.5" cy="236.1" r="8.05"/>
<circle cx="407.4" cy="225.9" r="8.05"/>
<circle cx="400.4" cy="214.4" r="8.05"/>
<circle cx="389.2" cy="268.4" r="8.05"/>
<circle cx="473.4" cy="156.7" r="8.05"/>
<circle cx="437.7" cy="261.7" r="8.05"/>
<circle cx="503.9" cy="126.8" r="8.05"/>
<circle cx="474" cy="121.1" r="8.05"/>
<circle cx="470.4" cy="143.8" r="8.05"/>
<circle cx="455.5" cy="114.7" r="8.05"/>
<circle cx="382.8" cy="250.9" r="8.05"/>
<circle cx="424.5" cy="259.3" r="8.05"/>
<circle cx="402" cy="251.5" r="8.05"/>
<circle cx="491.4" cy="154.1" r="8.05"/>
<circle cx="449.1" cy="105.6" r="8.05"/>
<circle cx="421" cy="279.7" r="8.05"/>
<circle cx="379.1" cy="245.5" r="8.05"/>
<circle cx="449.6" cy="171.2" r="8.05"/>
<circle cx="510.4" cy="191.2" r="8.05"/>
<circle cx="465.4" cy="132" r="8.05"/>
<circle cx="490.7" cy="159.9" r="8.05"/>
<circle cx="416.8" cy="172.4" r="8.05"/>
<circle cx="431.8" cy="289.7" r="8.05"/>
<circle cx="498.9" cy="117.9" r="8.05"/>
<circle cx="384.1" cy="238.9" r="8.05"/>
<circle cx="381.3" cy="191.2" r="8.05"/>
<circle cx="476.2" cy="257.7" r="8.05"/>
<circle cx="481" cy="174" r="8.05"/>
<circle cx="477" cy="139.4" r="8.05"/>
<circle cx="467.4" cy="164.5" r="8.05"/>
<circle cx="470.2" cy="214.2" r="8.05"/>
<circle cx="454.6" cy="96.3" r="8.05"/>
<circle cx="423.1" cy="179.4" r="8.05"/>
<circle cx="394.3" cy="289.7" r="8.05"/>
<circle cx="436.3" cy="238.3" r="8.05"/>
<circle cx="509" cy="192.7" r="8.05"/>
<circle cx="439.9" cy="112.3" r="8.05"/>
<circle cx="430.9" cy="249" r="8.05"/>
<circle cx="455.1" cy="103.3" r="8.05"/>
<circle cx="506.7" cy="102.2" r="8.05"/>
<circle cx="494" cy="155.9" r="8.05"/>
<circle cx="381.3" cy="269.5" r="8.05"/>
<circle cx="413.8" cy="182.3" r="8.05"/>
<circle cx="402.9" cy="213.5" r="8.05"/>
<circle cx="418.7" cy="161.9" r="8.05"/>
<circle cx="466.2" cy="106.7" r="8.05"/>
<circle cx="479" cy="187.9" r="8.05"/>
<circle cx="386.4" cy="169.4" r="8.05"/>
<circle cx="454.4" cy="105" r="8.05"/>
<circle cx="421.6" cy="217.7" r="8.05"/>
<circle cx="478.8" cy="156" r="8.05"/>
<circle cx="412.8" cy="165.2" r="8.05"/>
<circle cx="417.8" cy="258.6" r="8.05"/>
<circle cx="450.7" cy="206.2" r="8.05"/>
<circle cx="417.9" cy="159.3" r="8.05"/>
<circle cx="382.2" cy="205.6" r="8.05"/>
<circle cx="496.6" cy="167.3" r="8.05"/>
<circle cx="432.3" cy="191.6" r="8.05"/>
<circle cx="485.5" cy="214.8" r="8.05"/>
<circle cx="433.9" cy="253.8" r="8.05"/>
<circle cx="459" cy="144.7" r="8.05"/>
<circle cx="475.2" cy="206.2" r="8.05"/>
<circle cx="389.4" cy="285.4" r="8.05"/>
<circle cx="410.1" cy="292.3" r="8.05"/>
<circle cx="524" cy="182.4" r="8.05"/>
<circle cx="483.3" cy="210.5" r="8.05"/>
<circle cx="394.7" cy="258.2" r="8.05"/>
<circle cx="501.1" cy="203.4" r="8.05"/>
<circle cx="448.1" cy="177.3" r="8.05"/>
<circle cx="466.3" cy="91.5" r="8.05"/>
<circle cx="516.2" cy="190.2" r="8.05"/>
<circle cx="392.5" cy="152.6" r="8.05"/>
<circle cx="464" cy="212.1" r="8.05"/>
<circle cx="455.3" cy="209.9" r="8.05"/>
<circle cx="433.4" cy="230.7" r="8.05"/>
<circle cx="414.6" cy="153.3" r="8.05"/>
<circle cx="451.7" cy="220.4" r="8.05"/>
<circle cx="387.5" cy="232.3" r="8.05"/>
<circle cx="462.8" cy="168.9" r="8.05"/>
<circle cx="515.3" cy="172.5" r="8.05"/>
<circle cx="443.8" cy="269.8" r="8.05"/>
<circle cx="426.7" cy="258.8" r="8.05"/>
<circle cx="447" cy="161.4" r="8.05"/>
<circle cx="442.3" cy="109.5" r="8.05"/>
<circle cx="423.3" cy="180" r="8.05"/>
<circle cx="405.7" cy="284.5" r="8.05"/>
<circle cx="467.3" cy="149.8" r="8.05"/>
<circle cx="453.1" cy="256.5" r="8.05"/>
<circle cx="486.3" cy="184.3" r="8.05"/>
<circle cx="502.3" cy="196.6" r="8.05"/>
<circle cx="490.8" cy="198" r="8.05"/>
<circle cx="431.6" cy="252.7" r="8.05"/>
<circle cx="513" cy="103" r="8.05"/>
<circle cx="459.8" cy="208.1" r="8.05"/>
<circle cx="460.4" cy="181" r="8.05"/>
<circle cx="482.6" cy="110" r="8.05"/>
<circle cx="406.6" cy="147.8" r="8.05"/>
<circle cx="446.7" cy="269.2" r="8.05"/>
<circle cx="483.6" cy="102.6" r="8.05"/>
<circle cx="429.9" cy="239.8" r="8.05"/>
<circle cx="412" cy="201.8" r="8.05"/>
<circle cx="516.7" cy="107" r="8.05"/>
<circle cx="429.3" cy="295.7" r="8.05"/>
<circle cx="394.6" cy="204.9" r="8.05"/>
<circle cx="434.9" cy="291.6" r="8.05"/>
<circle cx="449.1" cy="293.2" r="8.05"/>
<circle cx="458.9" cy="132.7" r="8.05"/>
<circle cx="499.1" cy="161.6" r="8.05"/>
<circle cx="407" cy="209.6" r="8.05"/>
<circle cx="439.3" cy="261.3" r="8.05"/>
<circle cx="408.3" cy="248.7" r="8.05"/>
<circle cx="434" cy="112.7" r="8.05"/>
<circle cx="393.5" cy="214.4" r="8.05"/>
<circle cx="456.6" cy="225.7" r="8.05"/>
<circle cx="384.8" cy="179.7" r="8.05"/>
<circle cx="409.3" cy="246.1" r="8.05"/>
<circle cx="406.9" cy="132.6" r="8.05"/>
<circle cx="425.8" cy="193" r="8.05"/>
<circle cx="420.3" cy="225" r="8.05"/>
<circle cx="486.8" cy="208.2" r="8.05"/>
<circle cx="486.1" cy="234.2" r="8.05"/>
<circle cx="416" cy="198.5" r="8.05"/>
<circle cx="418.7" cy="112.2" r="8.05"/>
<circle cx="373.5" cy="209.2" r="8.05"/>
<circle cx="488.4" cy="214.9" r="8.05"/>
<circle cx="485.1" cy="135.4" r="8.05"/>
<circle cx="394.3" cy="215.9" r="8.05"/>
<circle cx="522.4" cy="181.7" r="8.05"/>
<circle cx="414.1" cy="227.2" r="8.05"/>
<circle cx="420.8" cy="223.9" r="8.05"/>
<circle cx="418.7" cy="114.9" r="8.05"/>
<circle cx="403.9" cy="263.7" r="8.05"/>
<circle cx="484.4" cy="91.7" r="8.05"/>
<circle cx="371.5" cy="253.1" r="8.05"/>
<circle cx="431.7" cy="302.4" r="8.05"/>
<circle cx="476.4" cy="139.1" r="8.05"/>
<circle cx="484.1" cy="146.6" r="8.05"/>
<circle cx="453.3" cy="158" r="8.05"/>
<circle cx="514.7" cy="225.1" r="8.05"/>
<circle cx="519.8" cy="177.6" r="8.05"/>
<circle cx="484" cy="228.5" r="8.05"/>
<circle cx="455.7" cy="215.2" r="8.05"/>
<circle cx="457.2" cy="174.9" r="8.05"/>
<circle cx="459.7" cy="94.7" r="8.05"/>
<circle cx="452.1" cy="123.3" r="8.05"/>
<circle cx="397.2" cy="184.6" r="8.05"/>
<circle cx="459.1" cy="141.1" r="8.05"/>
<circle cx="407.7" cy="207.1" r="8.05"/>
<circle cx="445.5" cy="177.2" r="8.05"/>
<circle cx="479.4" cy="210.4" r="8.05"/>
<circle cx="458.9" cy="281.1" r="8.05"/>
<circle cx="484.6" cy="118.8" r="8.05"/>
<circle cx="419.7" cy="291.7" r="8.05"/>
<circle cx="386.9" cy="282.4" r="8.05"/>
<circle cx="428.4" cy="185.8" r="8.05"/>
<circle cx="379" cy="223.8" r="8.05"/>
<circle cx="407.4" cy="239.4" r="8.05"/>
<circle cx="506.5" cy="224.5" r="8.05"/>
<circle cx="428" cy="214.6" r="8.05"/>
<circle cx="522.1" cy="190.4" r="8.05"/>
<circle cx="502.7" cy="223.3" r="8.05"/>
<circle cx="433.4" cy="225" r="8.05"/>
<circle cx="452" cy="166.1" r="8.05"/>
<circle cx="402.8" cy="272.8" r="8.05"/>
<circle cx="401.8" cy="214.7" r="8.05"/>
<circle cx="423.9" cy="119.4" r="8.05"/>
<circle cx="415.7" cy="289.6" r="8.05"/>
<circle cx="421.7" cy="237.2" r="8.05"/>
<circle cx="427.4" cy="151.4" r="8.05"/>
<circle cx="509.6" cy="186.1" r="8.05"/>
<circle cx="487.8" cy="231.8" r="8.05"/>
<circle cx="454.1" cy="95.2" r="8.05"/>
<circle cx="389.2" cy="233.7" r="8.05"/>
<circle cx="448.2" cy="162.5" r="8.05"/>
<circle cx="428.7" cy="278.8" r="8.05"/>
<circle cx="389.7" cy="251.1" r="8.05"/>
<circle cx="503.7" cy="190.9" r="8.05"/>
<circle cx="445.1" cy="198.3" r="8.05"/>
<circle cx="393.2" cy="186" r="8.05"/>
<circle cx="458.4" cy="216.9" r="8.05"/>
<circle cx="385" cy="170.8" r="8.05"/>
<circle cx="506.2" cy="150.1" r="8.05"/>
<circle cx="475.5" cy="255.7" r="8.05"/>
<circle cx="527.7" cy="208.9" r="8.05"/>
<circle cx="421" cy="138.4" r="8.05"/>
<circle cx="466.5" cy="203.1" r="8.05"/>
<circle cx="436.9" cy="269.5" r="8.05"/>
<circle cx="479.2" cy="208.7" r="8.05"/>
<circle cx="403.4" cy="266" r="8.05"/>
<circle cx="379.3" cy="234" r="8.05"/>
<circle cx="429.4" cy="214.2" r="8.05"/>
<circle cx="476.9" cy="195" r="8.05"/>
<circle cx="415.3" cy="147.6" r="8.05"/>
<circle cx="434.7" cy="222.4" r="8.05"/>
<circle cx="416.5" cy="208.2" r="8.05"/>
<circle cx="440.9" cy="200.4" r="8.05"/>
<circle cx="435.1" cy="121.6" r="8.05"/>
<circle cx="431" cy="173.8" r="8.05"/>
<circle cx="394.5" cy="274.8" r="8.05"/>
<circle cx="424.3" cy="117.8" r="8.05"/>
<circle cx="463" cy="281.4" r="8.05"/>
<circle cx="503" cy="228.8" r="8.05"/>
<circle cx="493.7" cy="161.3" r="8.05"/>
<circle cx="422.3" cy="147.9" r="8.05"/>
<circle cx="444.5" cy="117.2" r="8.05"/>
<circle cx="393.7" cy="271.2" r="8.05"/>
<circle cx="457.5" cy="128.8" r="8.05"/>
<circle cx="437.3" cy="287.8" r="8.05"/>
<circle cx="465" cy="212.7" r="8.05"/>
<circle cx="430.2" cy="128.2" r="8.05"/>
<circle cx="474" cy="100.2" r="8.05"/>
<circle cx="496.6" cy="172.3" r="8.05"/>
<circle cx="484.6" cy="221.5" r="8.05"/>
<circle cx="381.2" cy="209.1" r="8.05"/>
<circle cx="428.4" cy="149.4" r="8.05"/>
<circle cx="423.7" cy="279.9" r="8.05"/>
<circle cx="399.1" cy="249.4" r="8.05"/>
<circle cx="422" cy="208.3" r="8.05"/>
<circle cx="396.1" cy="191.4" r="8.05"/>
<circle cx="411.3" cy="273.2" r="8.05"/>
<circle cx="467.8" cy="227.2" r="8.05"/>
<circle cx="498.1" cy="142.2" r="8.05"/>
<circle cx="416" cy="273.7" r="8.05"/>
<circle cx="475.5" cy="140" r="8.05"/>
<circle cx="395.9" cy="201.8" r="8.05"/>
<circle cx="428.8" cy="299.9" r="8.05"/>
<circle cx="382" cy="251" r="8.05"/>
<circle cx="499.7" cy="171.2" r="8.05"/>
<circle cx="447.1" cy="226.8" r="8.05"/>
<circle cx="407.1" cy="232.7" r="8.05"/>
<circle cx="451" cy="283.8" r="8.05"/>
<circle cx="435.8" cy="146.2" r="8.05"/>
<circle cx="381.2" cy="214" r="8.05"/>
<circle cx="397.1" cy="276.2" r="8.05"/>
<circle cx="483.8" cy="92.1" r="8.05"/>
<circle cx="436" cy="186.3" r="8.05"/>
<circle cx="392.5" cy="202.3" r="8.05"/>
<circle cx="454.6" cy="128.5" r="8.05"/>
<circle cx="424.3" cy="289.1" r="8.05"/>
<circle cx="442.7" cy="278.8" r="8.05"/>
<circle cx="477.8" cy="175.1" r="8.05"/>
<circle cx="526.4" cy="193.1" r="8.05"/>
<circle cx="527.1" cy="194.6" r="8.05"/>
<circle cx="436.8" cy="220.9" r="8.05"/>
<circle cx="416.3" cy="117.3" r="8.05"/>
<circle cx="467.2" cy="282.8" r="8.05"/>
<circle cx="408.9" cy="286.1" r="8.05"/>
<circle cx="504.9" cy="217.9" r="8.05"/>
<circle cx="378.2" cy="217.4" r="8.05"/>
<circle cx="420" cy="168.9" r="8.05"/>
<circle cx="460" cy="232.4" r="8.05"/>
<circle cx="466" cy="196.4" r="8.05"/>
<circle cx="440.4" cy="200" r="8.05"/>
<circle cx="387.1" cy="158.7" r="8.05"/>
<circle cx="416.3" cy="202" r="8.05"/>
<circle cx="516.3" cy="225.7" r="8.05"/>
<circle cx="459.9" cy="217.4" r="8.05"/>
<circle cx="472.7" cy="99.7" r="8.05"/>
<circle cx="409.8" cy="253.4" r="8.05"/>
<circle cx="406.1" cy="131.7" r="8.05"/>
<circle cx="408.8" cy="195.4" r="8.05"/>
<circle cx="494.9" cy="153.1" r="8.05"/>
<circle cx="510.7" cy="99.7" r="8.05"/>
<circle cx="517.7" cy="113.4" r="8.05"/>
<circle cx="439.7" cy="167.9" r="8.05"/>
<circle cx="416" cy="258.9" r="8.05"/>
<circle cx="467" cy="238.6" r="8.05"/>
<circle cx="520.2" cy="182.2" r="8.05"/>
<circle cx="466.7" cy="110.9" r="8.05"/>
<circle cx="406.9" cy="128.3" r="8.05"/>
<circle cx="492.2" cy="133.9" r="8.05"/>
<circle cx="404.4" cy="212.3" r="8.05"/>
<circle cx="396.2" cy="150.1" r="8.05"/>
<circle cx="448.7" cy="169.6" r="8.05"/>
<circle cx="430.3" cy="236.2" r="8.05"/>
<circle cx="485" cy="152.1" r="8.05"/>
<circle cx="474" cy="238.8" r="8.05"/>
<circle cx="489.3" cy="163.1" r="8.05"/>
<circle cx="462.4" cy="211.9" r="8.05"/>
<circle cx="450.7" cy="194.7" r="8.05"/>
<circle cx="484.3" cy="217.9" r="8.05"/>
<circle cx="517.3" cy="188.2" r="8.05"/>
<circle cx="445.1" cy="278.4" r="8.05"/>
<circle cx="483.3" cy="205.8" r="8.05"/>
<circle cx="462.4" cy="272.1" r="8.05"/>
<circle cx="470.6" cy="143.2" r="8.05"/>
<circle cx="415" cy="224.7" r="8.05"/>
<circle cx="440.1" cy="247.1" r="8.05"/>
<circle cx="474" cy="172.6" r="8.05"/>
<circle cx="438.8" cy="233.5" r="8.05"/>
<circle cx="423.6" cy="267.2" r="8.05"/>
<circle cx="495.8" cy="154.3" r="8.05"/>
<circle cx="467.2" cy="267.7" r="8.05"/>
<circle cx="381" cy="245" r="8.05"/>
<circle cx="488" cy="125.2" r="8.05"/>
<circle cx="500.3" cy="201" r="8.05"/>
<circle cx="464.3" cy="168.3" r="8.05"/>
<circle cx="411.9" cy="181.2" r="8.05"/>
<circle cx="455.4" cy="190.9" r="8.05"/>
<circle cx="470.7" cy="227.7" r="8.05"/>
<circle cx="474.8" cy="139.5" r="8.05"/>
<circle cx="430.8" cy="131.6" r="8.05"/>
<circle cx="414.5" cy="199.5" r="8.05"/>
<circle cx="426.3" cy="212.7" r="8.05"/>
<circle cx="520.5" cy="203.1" r="8.05"/>
<circle cx="416.4" cy="224.5" r="8.05"/>
<circle cx="466.1" cy="151" r="8.05"/>
<circle cx="459.5" cy="147.2" r="8.05"/>
<circle cx="373.2" cy="198.1" r="8.05"/>
<circle cx="450.7" cy="287.4" r="8.05"/>
<circle cx="426.7" cy="136.4" r="8.05"/>
<circle cx="376.2" cy="203.6" r="8.05"/>
<circle cx="452.6" cy="112.6" r="8.05"/>
<circle cx="368.6" cy="254.7" r="8.05"/>
<circle cx="394.4" cy="151.7" r="8.05"/>
<circle cx="460" cy="141.3" r="8.05"/>
<circle cx="460.8" cy="188.8" r="8.05"/>
<circle cx="419" cy="178" r="8.05"/>
<circle cx="476.7" cy="261.7" r="8.05"/>
<circle cx="384.4" cy="278.6" r="8.05"/>
<circle cx="410.5" cy="163.3" r="8.05"/>
<circle cx="467.2" cy="186.4" r="8.05"/>
<circle cx="496.5" cy="109.4" r="8.05"/>
<circle cx="398.1" cy="149.5" r="8.05"/>
<circle cx="404.1" cy="181.8" r="8.05"/>
<circle cx="422.4" cy="189.2" r="8.05"/>
<circle cx="429.3" cy="182.6" r="8.05"/>
<circle cx="402.7" cy="277.9" r="8.05"/>
<circle cx="470.1" cy="108.9" r="8.05"/>
<circle cx="522.6" cy="207.6" r="8.05"/>
<circle cx="498.1" cy="169.4" r="8.05"/>
<circle cx="442.3" cy="165" r="8.05"/>
<circle cx="431.1" cy="193.2" r="8.05"/>
<circle cx="388.4" cy="215.8" r="8.05"/>
<circle cx="385" cy="190" r="8.05"/>
<circle cx="474.3" cy="113.9" r="8.05"/>
<circle cx="371.9" cy="226.4" r="8.05"/>
<circle cx="401" cy="234.2" r="8.05"/>
<circle cx="389.1" cy="284" r="8.05"/>
<circle cx="414.9" cy="183.1" r="8.05"/>
<circle cx="485" cy="98.3" r="8.05"/>
<circle cx="391.9" cy="208.2" r="8.05"/>
<circle cx="392.8" cy="166" r="8.05"/>
<circle cx="503.2" cy="230" r="8.05"/>
<circle cx="481.5" cy="162.7" r="8.05"/>
<circle cx="432.4" cy="166.9" r="8.05"/>
<circle cx="426" cy="292.1" r="8.05"/>
<circle cx="415.2" cy="202.5" r="8.05"/>
<circle cx="525.5" cy="209.3" r="8.05"/>
<circle cx="526" cy="209.9" r="8.05"/>
<circle cx="437.8" cy="287.7" r="8.05"/>
<circle cx="465.6" cy="194.1" r="8.05"/>
<circle cx="452.8" cy="165.9" r="8.05"/>
<circle cx="438" cy="99.5" r="8.05"/>
<circle cx="395.4" cy="262.1" r="8.05"/>
<circle cx="387.6" cy="167.6" r="8.05"/>
<circle cx="471" cy="242" r="8.05"/>
<circle cx="477.4" cy="128.3" r="8.05"/>
<circle cx="421" cy="217.7" r="8.05"/>
<circle cx="416.1" cy="195.4" r="8.05"/>
<circle cx="425.6" cy="214" r="8.05"/>
<circle cx="416.6" cy="257" r="8.05"/>
<circle cx="464.1" cy="195.5" r="8.05"/>
<circle cx="434.7" cy="98.9" r="8.05"/>
<circle cx="368.8" cy="237.4" r="8.05"/>
<circle cx="390.7" cy="159.3" r="8.05"/>
<circle cx="415.5" cy="278.9" r="8.05"/>
<circle cx="404.2" cy="154.3" r="8.05"/>
<circle cx="412.1" cy="231.6" r="8.05"/>
<circle cx="423.7" cy="236.4" r="8.05"/>
<circle cx="462.8" cy="217.9" r="8.05"/>
<circle cx="470.8" cy="241.4" r="8.05"/>
<circle cx="417.3" cy="165" r="8.05"/>
<circle cx="431.2" cy="205.3" r="8.05"/>
<circle cx="463" cy="288.3" r="8.05"/>
<circle cx="431" cy="188" r="8.05"/>
<circle cx="402.4" cy="254.4" r="8.05"/>
<circle cx="403.3" cy="256.9" r="8.05"/>
<circle cx="463.6" cy="247.1" r="8.05"/>
<circle cx="462.3" cy="199.3" r="8.05"/>
<circle cx="462.1" cy="257.1" r="8.05"/>
<circle cx="387.9" cy="220.9" r="8.05"/>
<circle cx="510.6" cy="185.3" r="8.05"/>
<circle cx="485.6" cy="238.3" r="8.05"/>
<circle cx="498.7" cy="166.3" r="8.05"/>
<circle cx="387.2" cy="186.4" r="8.05"/>
<circle cx="389.4" cy="197.7" r="8.05"/>
<circle cx="479.4" cy="202.3" r="8.05"/>
<circle cx="472.4" cy="154.7" r="8.05"/>
<circle cx="460.7" cy="182.9" r="8.05"/>
<circle cx="442.6" cy="212.3" r="8.05"/>
<circle cx="388.7" cy="227.3" r="8.05"/>
<circle cx="504.3" cy="148.7" r="8.05"/>
<circle cx="428.1" cy="236.5" r="8.05"/>
<circle cx="494.4" cy="227.9" r="8.05"/>
<circle cx="439.2" cy="274.3" r="8.05"/>
<circle cx="439.7" cy="279.1" r="8.05"/>
<circle cx="367.1" cy="252.4" r="8.05"/>
<circle cx="439.9" cy="124.9" r="8.05"/>
<circle cx="441" cy="283.3" r="8.05"/>
<circle cx="429.9" cy="297.4" r="8.05"/>
<circle cx="502.1" cy="123" r="8.05"/>
<circle cx="468.8" cy="124.6" r="8.05"/>
<circle cx="502.1" cy="213.3" r="8.05"/>
<circle cx="515.9" cy="186.2" r="8.05"/>
<circle cx="531" cy="191.8" r="8.05"/>
<circle cx="451.9" cy="120.7" r="8.05"/>
<circle cx="458.2" cy="182.8" r="8.05"/>
<circle cx="446.3" cy="117.2" r="8.05"/>
<circle cx="471.3" cy="135.1" r="8.05"/>
<circle cx="508.7" cy="133" r="8.05"/>
<circle cx="441.9" cy="289" r="8.05"/>
<circle cx="427" cy="157.9" r="8.05"/>
<circle cx="448.1" cy="187.1" r="8.05"/>
<circle cx="495.5" cy="153.5" r="8.05"/>
<circle cx="465.7" cy="155.9" r="8.05"/>
<circle cx="497.8" cy="123.1" r="8.05"/>
<circle cx="448.5" cy="187.2" r="8.05"/>
<circle cx="442.8" cy="209" r="8.05"/>
<circle cx="457.3" cy="156.7" r="8.05"/>
<circle cx="461.5" cy="232" r="8.05"/>
<circle cx="492.3" cy="157.5" r="8.05"/>
<circle cx="467.8" cy="191.2" r="8.05"/>
<circle cx="447.6" cy="175" r="8.05"/>
<circle cx="457.3" cy="133.5" r="8.05"/>
<circle cx="468.2" cy="139.9" r="8.05"/>
<circle cx="499.1" cy="159.5" r="8.05"/>
<circle cx="424.6" cy="222.5" r="8.05"/>
<circle cx="480.5" cy="178.5" r="8.05"/>
<circle cx="411" cy="135" r="8.05"/>
<circle cx="431.3" cy="246.9" r="8.05"/>
<circle cx="482.3" cy="123.4" r="8.05"/>
<circle cx="429.7" cy="294.8" r="8.05"/>
<circle cx="471.3" cy="172.8" r="8.05"/>
<circle cx="489.9" cy="151.3" r="8.05"/>
<circle cx="438.2" cy="272.8" r="8.05"/>
<circle cx="385.7" cy="207.9" r="8.05"/>
<circle cx="497.9" cy="116" r="8.05"/>
<circle cx="438.7" cy="210" r="8.05"/>
<circle cx="476.3" cy="247.4" r="8.05"/>
<circle cx="466.4" cy="112.7" r="8.05"/>
<circle cx="382" cy="160.8" r="8.05"/>
<circle cx="416.3" cy="114.4" r="8.05"/>
<circle cx="424.1" cy="123.1" r="8.05"/>
<circle cx="400.9" cy="199.3" r="8.05"/>
<circle cx="373.8" cy="207.8" r="8.05"/>
<circle cx="462.6" cy="115.7" r="8.05"/>
<circle cx="424.4" cy="114.5" r="8.05"/>
<circle cx="455.9" cy="291.4" r="8.05"/>
<circle cx="491.5" cy="130.6" r="8.05"/>
<circle cx="487.4" cy="91.9" r="8.05"/>
<circle cx="510.3" cy="126.7" r="8.05"/>
<circle cx="501.3" cy="108" r="8.05"/>
<circle cx="431.9" cy="106.7" r="8.05"/>
<circle cx="454.8" cy="235.9" r="8.05"/>
<circle cx="481.7" cy="115.7" r="8.05"/>
<circle cx="426.5" cy="164.3" r="8.05"/>
<circle cx="497.4" cy="179.1" r="8.05"/>
<circle cx="425.8" cy="211.6" r="8.05"/>
<circle cx="482.2" cy="189.8" r="8.05"/>
<circle cx="472.3" cy="216" r="8.05"/>
<circle cx="437.4" cy="267.4" r="8.05"/>
<circle cx="434.7" cy="284.9" r="8.05"/>
<circle cx="487" cy="237.9" r="8.05"/>
<circle cx="466.4" cy="93.2" r="8.05"/>
<circle cx="442" cy="244.5" r="8.05"/>
<circle cx="454.8" cy="220" r="8.05"/>
<circle cx="422.3" cy="280.5" r="8.05"/>
<circle cx="402.9" cy="232.9" r="8.05"/>
<circle cx="438.7" cy="117.1" r="8.05"/>
<circle cx="410.9" cy="193.5" r="8.05"/>
<circle cx="437.6" cy="192.9" r="8.05"/>
<circle cx="469.7" cy="104.9" r="8.05"/>
<circle cx="457.7" cy="241.1" r="8.05"/>
<circle cx="458.9" cy="178.8" r="8.05"/>
<circle cx="527.5" cy="205.5" r="8.05"/>
<circle cx="446.3" cy="255.2" r="8.05"/>
<circle cx="438.9" cy="97.9" r="8.05"/>
<circle cx="426.1" cy="104.7" r="8.05"/>
<circle cx="377.8" cy="236.4" r="8.05"/>
<circle cx="373.4" cy="202.9" r="8.05"/>
<circle cx="414.5" cy="226.3" r="8.05"/>
<circle cx="464.2" cy="214.3" r="8.05"/>
<circle cx="468.3" cy="147.3" r="8.05"/>
<circle cx="473" cy="185.3" r="8.05"/>
<circle cx="446.3" cy="208" r="8.05"/>
<circle cx="407.3" cy="123" r="8.05"/>
<circle cx="489" cy="189.5" r="8.05"/>
<circle cx="466.4" cy="125.1" r="8.05"/>
<circle cx="452.4" cy="237.4" r="8.05"/>
<circle cx="434.4" cy="243.7" r="8.05"/>
<circle cx="468.6" cy="194.7" r="8.05"/>
<circle cx="474.9" cy="154.3" r="8.05"/>
<circle cx="458.2" cy="153.5" r="8.05"/>
<circle cx="440.4" cy="254.2" r="8.05"/>
<circle cx="527.3" cy="209.9" r="8.05"/>
<circle cx="457.6" cy="263.6" r="8.05"/>
<circle cx="473.4" cy="97.3" r="8.05"/>
<circle cx="486.3" cy="215.5" r="8.05"/>
<circle cx="378" cy="243.7" r="8.05"/>
<circle cx="470.2" cy="232.4" r="8.05"/>
<circle cx="440.7" cy="226.2" r="8.05"/>
<circle cx="456.1" cy="221" r="8.05"/>
<circle cx="484" cy="126.4" r="8.05"/>
<circle cx="414.1" cy="267.2" r="8.05"/>
<circle cx="423" cy="244.9" r="8.05"/>
<circle cx="462.2" cy="145" r="8.05"/>
<circle cx="382.2" cy="218.3" r="8.05"/>
<circle cx="403.4" cy="284" r="8.05"/>
<circle cx="409.8" cy="194" r="8.05"/>
<circle cx="438.6" cy="272.9" r="8.05"/>
<circle cx="391.6" cy="263.2" r="8.05"/>
<circle cx="511" cy="183.3" r="8.05"/>
<circle cx="423.4" cy="297" r="8.05"/>
<circle cx="425.4" cy="286.8" r="8.05"/>
<circle cx="417.2" cy="133.4" r="8.05"/>
<circle cx="405.2" cy="245.1" r="8.05"/>
<circle cx="377" cy="243.6" r="8.05"/>
<circle cx="500.6" cy="189.9" r="8.05"/>
<circle cx="518.8" cy="113.1" r="8.05"/>
<circle cx="438.6" cy="203.8" r="8.05"/>
<circle cx="464.5" cy="124" r="8.05"/>
<circle cx="424" cy="233.8" r="8.05"/>
<circle cx="438" cy="212.7" r="8.05"/>
<circle cx="435.9" cy="260.2" r="8.05"/>
<circle cx="411.7" cy="227.4" r="8.05"/>
<circle cx="476.4" cy="129.6" r="8.05"/>
<circle cx="407.8" cy="222.5" r="8.05"/>
<circle cx="406.4" cy="277.9" r="8.05"/>
<circle cx="376.9" cy="266.7" r="8.05"/>
<circle cx="385.6" cy="250.6" r="8.05"/>
<circle cx="501" cy="189.2" r="8.05"/>
<circle cx="497.3" cy="149" r="8.05"/>
<circle cx="507.2" cy="177.9" r="8.05"/>
<circle cx="466" cy="112.7" r="8.05"/>
<circle cx="449" cy="280.6" r="8.05"/>
<circle cx="507.2" cy="178.9" r="8.05"/>
<circle cx="372.7" cy="240.8" r="8.05"/>
<circle cx="471.2" cy="164" r="8.05"/>
<circle cx="414.6" cy="208.8" r="8.05"/>
<circle cx="403.7" cy="224.3" r="8.05"/>
<circle cx="488.2" cy="155.3" r="8.05"/>
<circle cx="417.4" cy="153.2" r="8.05"/>
<circle cx="416.1" cy="296.4" r="8.05"/>
<circle cx="397.4" cy="268.5" r="8.05"/>
<circle cx="488" cy="155.3" r="8.05"/>
<circle cx="398.1" cy="232.4" r="8.05"/>
<circle cx="452.7" cy="269.4" r="8.05"/>
<circle cx="440.4" cy="101.7" r="8.05"/>
<circle cx="454.9" cy="250.7" r="8.05"/>
<circle cx="458" cy="127.4" r="8.05"/>
<circle cx="406.4" cy="164.5" r="8.05"/>
<circle cx="413.9" cy="140.2" r="8.05"/>
<circle cx="473.5" cy="243.9" r="8.05"/>
<circle cx="399.5" cy="194.2" r="8.05"/>
<circle cx="457.8" cy="128" r="8.05"/>
<circle cx="405.4" cy="210.1" r="8.05"/>
<circle cx="520.4" cy="207.1" r="8.05"/>
<circle cx="456.7" cy="147.8" r="8.05"/>
<circle cx="390.6" cy="195.1" r="8.05"/>
<circle cx="430.7" cy="294.8" r="8.05"/>
<circle cx="397.9" cy="175.7" r="8.05"/>
<circle cx="468" cy="278.3" r="8.05"/>
<circle cx="485.9" cy="112.9" r="8.05"/>
<circle cx="433.8" cy="173.9" r="8.05"/>
<circle cx="393.3" cy="248.7" r="8.05"/>
<circle cx="392.7" cy="204.9" r="8.05"/>
<circle cx="456.8" cy="120.3" r="8.05"/>
<circle cx="373.4" cy="195.4" r="8.05"/>
<circle cx="445.8" cy="123.4" r="8.05"/>
<circle cx="510.1" cy="215.6" r="8.05"/>
<circle cx="420.2" cy="194.1" r="8.05"/>
<circle cx="452.8" cy="168.7" r="8.05"/>
<circle cx="509.8" cy="219.4" r="8.05"/>
<circle cx="515.3" cy="186.6" r="8.05"/>
<circle cx="427.5" cy="228.5" r="8.05"/>
<circle cx="376.9" cy="244.1" r="8.05"/>
<circle cx="469.2" cy="272" r="8.05"/>
<circle cx="466.6" cy="96.4" r="8.05"/>
<circle cx="474" cy="262.3" r="8.05"/>
<circle cx="452.7" cy="291.6" r="8.05"/>
<circle cx="483.6" cy="147.3" r="8.05"/>
<circle cx="467.2" cy="263.1" r="8.05"/>
<circle cx="514.9" cy="112.6" r="8.05"/>
<circle cx="388.2" cy="244.2" r="8.05"/>
<circle cx="448.5" cy="172.6" r="8.05"/>
<circle cx="372.8" cy="229.6" r="8.05"/>
<circle cx="480.9" cy="133.7" r="8.05"/>
<circle cx="495.4" cy="122.2" r="8.05"/>
<circle cx="426.6" cy="232.3" r="8.05"/>
<circle cx="502.4" cy="188.9" r="8.05"/>
<circle cx="508.2" cy="193.4" r="8.05"/>
<circle cx="462.2" cy="214.8" r="8.05"/>
<circle cx="415.1" cy="208.9" r="8.05"/>
<circle cx="472.5" cy="242.8" r="8.05"/>
<circle cx="421.7" cy="281.4" r="8.05"/>
<circle cx="452.8" cy="174.9" r="8.05"/>
<circle cx="430.9" cy="123.1" r="8.05"/>
<circle cx="473" cy="120.4" r="8.05"/>
<circle cx="513.8" cy="224.8" r="8.05"/>
<circle cx="490.7" cy="178.9" r="8.05"/>
<circle cx="452.6" cy="146.2" r="8.05"/>
<circle cx="420" cy="300.4" r="8.05"/>
<circle cx="497.2" cy="120.2" r="8.05"/>
<circle cx="437.5" cy="279.1" r="8.05"/>
<circle cx="452.1" cy="201.8" r="8.05"/>
<circle cx="451.2" cy="122.6" r="8.05"/>
<circle cx="410.4" cy="164" r="8.05"/>
<circle cx="460.1" cy="149.6" r="8.05"/>
<circle cx="424.1" cy="210.6" r="8.05"/>
<circle cx="479.9" cy="144.1" r="8.05"/>
<circle cx="510.5" cy="108.1" r="8.05"/>
<circle cx="385.4" cy="172.7" r="8.05"/>
<circle cx="459.7" cy="236.5" r="8.05"/>
<circle cx="495.7" cy="131.1" r="8.05"/>
<circle cx="468.4" cy="108.1" r="8.05"/>
<circle cx="439.5" cy="164.5" r="8.05"/>
<circle cx="436.9" cy="249.4" r="8.05"/>
<circle cx="493.1" cy="184.9" r="8.05"/>
<circle cx="384.2" cy="251.8" r="8.05"/>
<circle cx="514.3" cy="109" r="8.05"/>
<circle cx="400.6" cy="227.5" r="8.05"/>
<circle cx="501.6" cy="152.6" r="8.05"/>
<circle cx="515.9" cy="114.6" r="8.05"/>
<circle cx="431.8" cy="197.4" r="8.05"/>
<circle cx="440" cy="221.1" r="8.05"/>
<circle cx="436.7" cy="284.8" r="8.05"/>
<circle cx="372.2" cy="226.2" r="8.05"/>
<circle cx="461" cy="192.9" r="8.05"/>
<circle cx="491.7" cy="176.9" r="8.05"/>
<circle cx="458.3" cy="146" r="8.05"/>
<circle cx="406.4" cy="172.7" r="8.05"/>
<circle cx="402.1" cy="253.5" r="8.05"/>
<circle cx="415.5" cy="243.9" r="8.05"/>
<circle cx="476.2" cy="150.5" r="8.05"/>
<circle cx="439.1" cy="220" r="8.05"/>
<circle cx="499.5" cy="156.5" r="8.05"/>
<circle cx="440.5" cy="244" r="8.05"/>
<circle cx="478.7" cy="182" r="8.05"/>
<circle cx="468.4" cy="261.9" r="8.05"/>
<circle cx="422.1" cy="177.5" r="8.05"/>
<circle cx="508" cy="203.9" r="8.05"/>
<circle cx="471.6" cy="276.4" r="8.05"/>
<circle cx="388.1" cy="216.6" r="8.05"/>
<circle cx="492.2" cy="219.5" r="8.05"/>
<circle cx="430.1" cy="303.9" r="8.05"/>
<circle cx="434" cy="116.6" r="8.05"/>
<circle cx="388.9" cy="174.8" r="8.05"/>
<circle cx="451.1" cy="233.6" r="8.05"/>
<circle cx="430.5" cy="174.5" r="8.05"/>
<circle cx="495.3" cy="119.7" r="8.05"/>
<circle cx="475.5" cy="145.4" r="8.05"/>
<circle cx="408.3" cy="142.3" r="8.05"/>
<circle cx="444.1" cy="266.7" r="8.05"/>
<circle cx="509.3" cy="104.8" r="8.05"/>
<circle cx="509.4" cy="108.9" r="8.05"/>
<circle cx="510.6" cy="119.6" r="8.05"/>
<circle cx="512" cy="175.9" r="8.05"/>
<circle cx="452.8" cy="270.2" r="8.05"/>
<circle cx="482" cy="158.9" r="8.05"/>
<circle cx="409.6" cy="154" r="8.05"/>
<circle cx="503.7" cy="190.2" r="8.05"/>
<circle cx="592.9" cy="224.6" r="8.05"/>
<circle cx="542.5" cy="212.5" r="8.05"/>
<circle cx="616.6" cy="197" r="8.05"/>
<circle cx="579.9" cy="202.8" r="8.05"/>
<circle cx="586.2" cy="217.3" r="8.05"/>
<circle cx="541.1" cy="201.5" r="8.05"/>
<circle cx="563.8" cy="232.3" r="8.05"/>
<circle cx="605.1" cy="199" r="8.05"/>
<circle cx="607.8" cy="198.1" r="8.05"/>
<circle cx="592.5" cy="197.6" r="8.05"/>
<circle cx="540.2" cy="230.3" r="8.05"/>
<circle cx="557.8" cy="201.5" r="8.05"/>
<circle cx="564.6" cy="234.3" r="8.05"/>
<circle cx="585.8" cy="221.8" r="8.05"/>
<circle cx="557.4" cy="233.4" r="8.05"/>
<circle cx="616" cy="205.1" r="8.05"/>
<circle cx="570.7" cy="199.3" r="8.05"/>
<circle cx="552.4" cy="194.9" r="8.05"/>
<circle cx="565.6" cy="218.5" r="8.05"/>
<circle cx="540.3" cy="221.8" r="8.05"/>
<circle cx="568.7" cy="205.6" r="8.05"/>
<circle cx="609.6" cy="213.2" r="8.05"/>
<circle cx="490.2" cy="264.3" r="8.05"/>
<circle cx="504.6" cy="261" r="8.05"/>
<circle cx="499.6" cy="273.4" r="8.05"/>
<circle cx="478.6" cy="279.3" r="8.05"/>
<circle cx="477.6" cy="276.2" r="8.05"/>
<circle cx="494.7" cy="292.7" r="8.05"/>
<circle cx="481.4" cy="267.4" r="8.05"/>
<circle cx="503.6" cy="297.8" r="8.05"/>
<circle cx="501.4" cy="274.7" r="8.05"/>
<circle cx="513.8" cy="270.2" r="8.05"/>
<circle cx="482.3" cy="262.9" r="8.05"/>
<circle cx="489.6" cy="292.3" r="8.05"/>
<circle cx="484" cy="282.4" r="8.05"/>
<circle cx="504.1" cy="273.6" r="8.05"/>
<circle cx="500.1" cy="260.6" r="8.05"/>
<circle cx="478.6" cy="266.7" r="8.05"/>
<circle cx="505.9" cy="276" r="8.05"/>
<circle cx="489.8" cy="282.6" r="8.05"/>
<circle cx="495.9" cy="270.6" r="8.05"/>
<circle cx="511" cy="287.4" r="8.05"/>
<circle cx="486.7" cy="282.1" r="8.05"/>
<circle cx="499.1" cy="294.8" r="8.05"/>
<circle cx="475.5" cy="76.7" r="8.05"/>
<circle cx="468.7" cy="59.8" r="8.05"/>
<circle cx="458" cy="71.9" r="8.05"/>
</g>
<g stroke="#000" stroke-width="2.2" fill="none">
<line x1="131.0" y1="16.1" x2="131.0" y2="724.0"/>
<line x1="130.0" y1="723.0" x2="994.0" y2="723.0"/>
</g>
<g stroke="#000" stroke-width="1.1" fill="none">
<line x1="131.0" y1="717.0" x2="131.0" y2="730.0"/>
<line x1="274.8" y1="717.0" x2="274.8" y2="730.0"/>
<line x1="418.7" y1="717.0" x2="418.7" y2="730.0"/>
<line x1="562.5" y1="717.0" x2="562.5" y2="730.0"/>
<line x1="706.3" y1="717.0" x2="706.3" y2="730.0"/>
<line x1="850.2" y1="717.0" x2="850.2" y2="730.0"/>
<line x1="124.0" y1="723.0" x2="138.0" y2="723.0"/>
<line x1="124.0" y1="652.3" x2="138.0" y2="652.3"/>
<line x1="124.0" y1="581.6" x2="138.0" y2="581.6"/>
<line x1="124.0" y1="510.9" x2="138.0" y2="510.9"/>
<line x1="124.0" y1="440.2" x2="138.0" y2="440.2"/>
<line x1="124.0" y1="369.5" x2="138.0" y2="369.5"/>
<line x1="124.0" y1="298.8" x2="138.0" y2="298.8"/>
<line x1="124.0" y1="228.1" x2="138.0" y2="228.1"/>
<line x1="124.0" y1="157.4" x2="138.0" y2="157.4"/>
<line x1="124.0" y1="86.8" x2="138.0" y2="86.8"/>
</g>
<circle cx="131.0" cy="16.1" r="6.5" fill="#000"/>
<circle cx="994.0" cy="723.0" r="6.5" fill="#000"/>
<g class="tk" lengthAdjust="spacingAndGlyphs">
<text x="45.0" y="730.9" textLength="67.8" lengthAdjust="spacingAndGlyphs">800000</text>
<text x="33.7" y="660.2" textLength="79.1" lengthAdjust="spacingAndGlyphs">1000000</text>
<text x="33.7" y="589.5" textLength="79.1" lengthAdjust="spacingAndGlyphs">1200000</text>
<text x="33.7" y="518.8" textLength="79.1" lengthAdjust="spacingAndGlyphs">1400000</text>
<text x="33.7" y="448.1" textLength="79.1" lengthAdjust="spacingAndGlyphs">1600000</text>
<text x="33.7" y="377.4" textLength="79.1" lengthAdjust="spacingAndGlyphs">1800000</text>
<text x="33.7" y="306.7" textLength="79.1" lengthAdjust="spacingAndGlyphs">2000000</text>
<text x="33.7" y="236.0" textLength="79.1" lengthAdjust="spacingAndGlyphs">2200000</text>
<text x="33.7" y="165.3" textLength="79.1" lengthAdjust="spacingAndGlyphs">2400000</text>
<text x="33.7" y="94.7" textLength="79.1" lengthAdjust="spacingAndGlyphs">2600000</text>
<text x="33.7" y="23.9" textLength="79.1" lengthAdjust="spacingAndGlyphs">2800000</text>
</g>
<g class="tk">
<text x="103.2" y="756.6" textLength="56.5" lengthAdjust="spacingAndGlyphs">23000</text>
<text x="247.1" y="756.6" textLength="56.5" lengthAdjust="spacingAndGlyphs">25000</text>
<text x="390.9" y="756.6" textLength="56.5" lengthAdjust="spacingAndGlyphs">27000</text>
<text x="534.8" y="756.6" textLength="56.5" lengthAdjust="spacingAndGlyphs">29000</text>
<text x="678.6" y="756.6" textLength="56.5" lengthAdjust="spacingAndGlyphs">31000</text>
<text x="822.4" y="756.6" textLength="56.5" lengthAdjust="spacingAndGlyphs">33000</text>
<text x="966.2" y="756.6" textLength="56.5" lengthAdjust="spacingAndGlyphs">35000</text>
</g>
<text class="ttl" x="562" y="788" text-anchor="middle" textLength="343" lengthAdjust="spacingAndGlyphs">Primary Energy Consumption[kWh]</text>
<text class="ttl" transform="translate(22.8 370.8) rotate(-90)" text-anchor="middle" textLength="249" lengthAdjust="spacingAndGlyphs">Initial Investment Cost [$]</text>
<path d="M353.2 122.5 L353.3 138 L353.8 152 L354.6 164 L355.3 176.5 L355.8 190 L356.2 203 L356.8 215.5 L357.8 228.2 L359 240.5 L360 252.6 L361.5 266 L363.6 278.8 L366.4 290.5 L369.4 302.6 L373 315.5 L377.5 327.4 L383 339.2 L390.5 351 L398.6 360.5 L407.4 367 L416 372.5 L425 375 L432 375.5 L470 377.3 L533.4 377.6 L572 380 L611 381 L637 382 L712.6 385 L788.7 385.8 L814.5 385.2 L838.5 384.6" fill="none" stroke="#002060" stroke-width="6.3" stroke-dasharray="6.2 6.6" stroke-dashoffset="1.6" stroke-linejoin="round"/>
<g fill="#002060">
<rect x="338.3" y="189.6" width="16" height="15.4"/>
<rect x="344.3" y="254.8" width="16" height="15.7"/>
<rect x="371.8" y="345.2" width="16.5" height="15.6"/>
<rect x="408" y="367.5" width="16" height="15.6"/>
<rect x="525.4" y="369.8" width="16" height="15.7"/>
<rect x="793.7" y="381" width="16" height="16"/>
<path d="M387.5 349 L392.5 353 L387.5 357 Z"/>
</g>
<path d="M243.6 152 L244.7 156.8 L245.7 169.2 L247.5 182 L250.5 195 L254.1 206.7 L258.5 218.5 L264 230.4 L270.4 241.6 L277.4 252.2 L285.2 262.6 L293.2 272.3 L301.9 281.4 L310.9 290.4 L320.2 299.3 L329.3 308 L338.8 316.6 L347.9 325.5 L356.8 334.5 L366.2 343.8 L375.1 352.4 L383.7 361.6 L392 371.8 L400 382.5 L408.5 393 L415.5 403 L420.2 414.5 L425.1 426.3 L429 438.2 L432 450.7 L434.2 463.5 L436.2 476 L437.9 488.8 L439.5 502 L441.3 514.6 L443 527 L444.8 539.6 L446.6 551.9 L449.2 564.2 L452.7 576.5 L457.1 588.8 L462 600.4 L468.2 611.3 L476.3 621.3 L485 630.5 L495.5 638 L506.8 643.6 L518.8 648.5 L531 652.6 L543 656 L555.3 659 L567.8 661.3 L580.5 663.7 L593.2 665.4 L606 666.7 L618.7 668 L644 670 L669.5 671 L695 671.5 L720.3 671.9 L745.7 672.6 L771 673 L823.8 674 L838.5 673.5" fill="none" stroke="#ff0000" stroke-width="6.2" stroke-dasharray="6.2 6.7" stroke-dashoffset="11.8" stroke-linejoin="round"/>
<g fill="#ff0000">
<path d="M232.3 137.6 L242 155.9 L222.6 155.9 Z"/>
<path d="M246 179.6 L255.7 197.9 L236.3 197.9 Z"/>
<path d="M249.3 221.2 L259 239.5 L239.6 239.5 Z"/>
<path d="M301.6 295.6 L311.3 313.9 L291.9 313.9 Z"/>
<path d="M332.5 323.2 L342.2 341.5 L322.8 341.5 Z"/>
<path d="M352.5 323.9 L362.2 342.2 L342.8 342.2 Z"/>
<path d="M400.3 380.6 L410 398.9 L390.6 398.9 Z"/>
<path d="M417.5 391.2 L427.2 409.5 L407.8 409.5 Z"/>
<path d="M455.8 546.9 L465.5 565.2 L446.1 565.2 Z"/>
<path d="M471.8 555.4 L481.5 573.7 L462.1 573.7 Z"/>
<path d="M485.9 565.9 L495.6 584.2 L476.2 584.2 Z"/>
<path d="M492.2 612.4 L501.9 630.7 L482.5 630.7 Z"/>
<path d="M512.4 619 L522.1 637.3 L502.7 637.3 Z"/>
<path d="M597.7 641.6 L607.4 659.9 L588 659.9 Z"/>
<path d="M838.6 663.3 L848.3 681.6 L828.9 681.6 Z"/>
<path d="M406 384 L413 398 L399 398 Z"/>
</g>
<rect x="651.6" y="224.5" width="15.4" height="15.4" fill="#ffff00" stroke="#000" stroke-width="3"/>
<g fill="#ffc000" fill-opacity=".3" stroke="#0d0d0d">
<ellipse cx="250.3" cy="170.2" rx="48.3" ry="43.5" stroke-width="3.1" stroke-dasharray="9 3.03"/>
<ellipse cx="360.2" cy="341.2" rx="42" ry="37.3" stroke-width="2.9" stroke-dasharray="7.8 2.6"/>
<ellipse cx="506.5" cy="632.4" rx="39.2" ry="37.8" stroke-width="2.9" stroke-dasharray="7.6 2.57"/>
</g>
<rect x="188" y="88.4" width="92.5" height="31.3" fill="#fff"/>
<rect x="296" y="394" width="80" height="25" fill="#fff" fill-opacity=".8"/>
<rect x="637.5" y="394.7" width="263" height="37.3" fill="#fff" fill-opacity="0.6"/>
<rect x="647.4" y="627" width="235.6" height="36" fill="#fff" fill-opacity="0.6"/>
<rect x="673.5" y="20" width="317" height="157" fill="#fff" fill-opacity="0.6"/>
<ellipse cx="372.2" cy="189.5" rx="15.8" ry="14.2" fill="#fff" stroke="#000" stroke-width="2.1"/>
<text class="lab" x="372.2" y="195" text-anchor="middle">a</text>
<ellipse cx="376.5" cy="263.6" rx="16.1" ry="13.9" fill="#fff" stroke="#000" stroke-width="2.1"/>
<text class="lab" x="376.5" y="270.1" text-anchor="middle">b</text>
<ellipse cx="408.2" cy="337.8" rx="14.6" ry="14" fill="#fff" stroke="#000" stroke-width="2.1"/>
<text class="lab" x="408.2" y="343.3" text-anchor="middle">c</text>
<ellipse cx="446" cy="366.5" rx="15.2" ry="14.3" fill="#fff" stroke="#000" stroke-width="2.1"/>
<text class="lab" x="446" y="373" text-anchor="middle">d</text>
<ellipse cx="552.4" cy="365.8" rx="14.6" ry="14.5" fill="#fff" stroke="#000" stroke-width="2.1"/>
<text class="lab" x="552.4" y="371.3" text-anchor="middle">e</text>
<ellipse cx="814.1" cy="366.7" rx="15.7" ry="14" fill="#fff" stroke="#000" stroke-width="2.1"/>
<text class="lab" x="814.1" y="373.2" text-anchor="middle">f</text>
<text class="grp" x="192.6" y="112.7" textLength="69.2" lengthAdjust="spacingAndGlyphs">group1</text>
<text class="grp" x="302.2" y="412.1" textLength="68.6" lengthAdjust="spacingAndGlyphs">group2</text>
<text class="it" x="664.6" y="421.8" textLength="231.5" lengthAdjust="spacingAndGlyphs">GSHP 40%: Pareto-front</text>
<text class="it" x="678.4" y="652.4" textLength="202" lengthAdjust="spacingAndGlyphs">Random: Pareto-front</text>
<circle cx="688.5" cy="35.7" r="6.4" fill="#fac090" fill-opacity=".5" stroke="#fac090" stroke-opacity=".85" stroke-width="1.6"/>
<circle cx="688.5" cy="67" r="6.4" fill="#92cddc" fill-opacity=".5" stroke="#92cddc" stroke-opacity=".9" stroke-width="1.6"/>
<rect x="681.6" y="92.6" width="13.4" height="13" fill="#002060"/>
<path d="M688.5 123.8 L695.6 138.4 L681.4 138.4 Z" fill="#ff0000"/>
<rect x="681.6" y="155.6" width="13.4" height="13.2" fill="#ffff00" stroke="#000" stroke-width="2.6"/>
<g class="lg">
<text x="698.3" y="43.6" textLength="180.6" lengthAdjust="spacingAndGlyphs">Random Individuals</text>
<text x="698.3" y="75.3" textLength="202.5" lengthAdjust="spacingAndGlyphs">GSHP40% Individuals</text>
<text x="698.3" y="107" textLength="270.5" lengthAdjust="spacingAndGlyphs">GSHP 40% Optimal Solutions</text>
<text x="698.3" y="138.7" textLength="242.8" lengthAdjust="spacingAndGlyphs">Random Optimal Solutions</text>
<text x="698.3" y="170.4" textLength="234.6" lengthAdjust="spacingAndGlyphs">Design proposal by expert</text>
</g>
</svg>
</body></html>
